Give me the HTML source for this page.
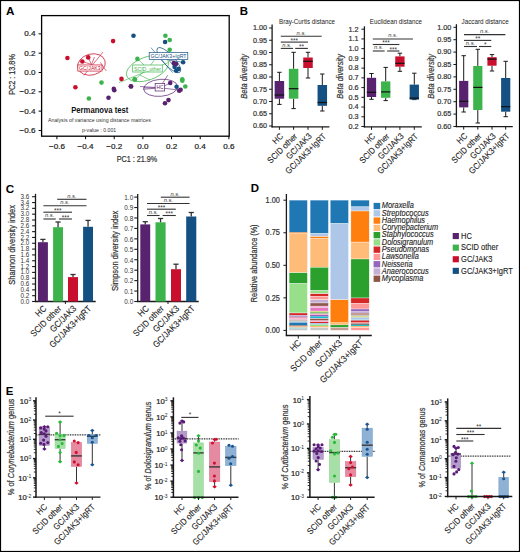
<!DOCTYPE html>
<html><head><meta charset="utf-8"><style>
html,body{margin:0;padding:0;background:#fff;overflow:hidden;}
svg{display:block;font-family:"Liberation Sans", sans-serif;}

</style></head><body>
<svg width="520" height="552" viewBox="0 0 520 552">
<rect x="0" y="0" width="520" height="552" fill="#fff"/>
<text x="6.00" y="14.60" font-size="10.6" text-anchor="start" font-weight="bold" fill="#000" textLength="8.42" lengthAdjust="spacingAndGlyphs">A</text>
<rect x="41.6" y="15.6" width="187.6" height="120.6" fill="none" stroke="#000" stroke-width="1.3"/>
<line x1="56.92" y1="136.20" x2="56.92" y2="139.20" stroke="#000" stroke-width="1"/>
<text x="56.92" y="148.80" font-size="8.1" text-anchor="middle" stroke="#222" stroke-width="0.22" fill="#222">−0.6</text>
<line x1="85.58" y1="136.20" x2="85.58" y2="139.20" stroke="#000" stroke-width="1"/>
<text x="85.58" y="148.80" font-size="8.1" text-anchor="middle" stroke="#222" stroke-width="0.22" fill="#222">−0.4</text>
<line x1="114.24" y1="136.20" x2="114.24" y2="139.20" stroke="#000" stroke-width="1"/>
<text x="114.24" y="148.80" font-size="8.1" text-anchor="middle" stroke="#222" stroke-width="0.22" fill="#222">−0.2</text>
<line x1="142.90" y1="136.20" x2="142.90" y2="139.20" stroke="#000" stroke-width="1"/>
<text x="142.90" y="148.80" font-size="8.1" text-anchor="middle" stroke="#222" stroke-width="0.22" fill="#222">0.0</text>
<line x1="171.56" y1="136.20" x2="171.56" y2="139.20" stroke="#000" stroke-width="1"/>
<text x="171.56" y="148.80" font-size="8.1" text-anchor="middle" stroke="#222" stroke-width="0.22" fill="#222">0.2</text>
<line x1="200.22" y1="136.20" x2="200.22" y2="139.20" stroke="#000" stroke-width="1"/>
<text x="200.22" y="148.80" font-size="8.1" text-anchor="middle" stroke="#222" stroke-width="0.22" fill="#222">0.4</text>
<line x1="228.88" y1="136.20" x2="228.88" y2="139.20" stroke="#000" stroke-width="1"/>
<text x="228.88" y="148.80" font-size="8.1" text-anchor="middle" stroke="#222" stroke-width="0.22" fill="#222">0.6</text>
<line x1="38.60" y1="33.86" x2="41.60" y2="33.86" stroke="#000" stroke-width="1"/>
<text x="35.40" y="36.26" font-size="8.1" text-anchor="end" stroke="#222" stroke-width="0.22" fill="#222">0.4</text>
<line x1="38.60" y1="53.18" x2="41.60" y2="53.18" stroke="#000" stroke-width="1"/>
<text x="35.40" y="55.58" font-size="8.1" text-anchor="end" stroke="#222" stroke-width="0.22" fill="#222">0.2</text>
<line x1="38.60" y1="72.50" x2="41.60" y2="72.50" stroke="#000" stroke-width="1"/>
<text x="35.40" y="74.90" font-size="8.1" text-anchor="end" stroke="#222" stroke-width="0.22" fill="#222">0.0</text>
<line x1="38.60" y1="91.82" x2="41.60" y2="91.82" stroke="#000" stroke-width="1"/>
<text x="35.40" y="94.22" font-size="8.1" text-anchor="end" stroke="#222" stroke-width="0.22" fill="#222">−0.2</text>
<line x1="38.60" y1="111.14" x2="41.60" y2="111.14" stroke="#000" stroke-width="1"/>
<text x="35.40" y="113.54" font-size="8.1" text-anchor="end" stroke="#222" stroke-width="0.22" fill="#222">−0.4</text>
<line x1="38.60" y1="130.46" x2="41.60" y2="130.46" stroke="#000" stroke-width="1"/>
<text x="35.40" y="132.86" font-size="8.1" text-anchor="end" stroke="#222" stroke-width="0.22" fill="#222">−0.6</text>
<text x="137.00" y="162.40" font-size="9.2" text-anchor="middle" stroke="#333" stroke-width="0.22" fill="#333" textLength="40.60" lengthAdjust="spacingAndGlyphs">PC1 : 21.9%</text>
<text x="14.60" y="74.50" font-size="8.7" text-anchor="middle" stroke="#333" stroke-width="0.22" fill="#333" textLength="40.60" lengthAdjust="spacingAndGlyphs" transform="rotate(-90 14.60 74.50)">PC2 : 13.8%</text>
<line x1="84.00" y1="75.30" x2="103.00" y2="52.00" stroke="#c8102e" stroke-width="0.6"/>
<line x1="100.30" y1="62.30" x2="106.30" y2="71.00" stroke="#c8102e" stroke-width="0.6"/>
<line x1="91.50" y1="64.50" x2="82.30" y2="61.50" stroke="#c8102e" stroke-width="0.6"/>
<line x1="91.50" y1="64.50" x2="88.20" y2="57.40" stroke="#c8102e" stroke-width="0.6"/>
<line x1="91.50" y1="64.50" x2="94.50" y2="57.00" stroke="#c8102e" stroke-width="0.6"/>
<ellipse cx="91.5" cy="64.5" rx="14" ry="10.5" transform="rotate(-15 91.5 64.5)" fill="none" stroke="#c8102e" stroke-width="0.7"/>
<rect x="77.80" y="64.95" width="24.2" height="6.1" fill="#fff" stroke="#c8102e" stroke-width="0.7"/>
<text x="89.90" y="70.00" font-size="5.6" text-anchor="middle" fill="#c8102e" textLength="21.70" lengthAdjust="spacingAndGlyphs">GC/JAK3</text>
<line x1="118.80" y1="82.70" x2="168.00" y2="62.70" stroke="#3cb44b" stroke-width="0.6"/>
<line x1="147.50" y1="68.50" x2="137.70" y2="58.90" stroke="#3cb44b" stroke-width="0.6"/>
<line x1="147.50" y1="68.50" x2="134.90" y2="79.50" stroke="#3cb44b" stroke-width="0.6"/>
<line x1="150.00" y1="66.00" x2="160.00" y2="52.00" stroke="#3cb44b" stroke-width="0.6"/>
<line x1="140.00" y1="75.00" x2="150.00" y2="80.00" stroke="#3cb44b" stroke-width="0.6"/>
<ellipse cx="147.5" cy="68.5" rx="22" ry="11.5" transform="rotate(-20 147.5 68.5)" fill="none" stroke="#3cb44b" stroke-width="0.7"/>
<rect x="132.70" y="65.00" width="29.6" height="7" fill="#fff" stroke="#3cb44b" stroke-width="0.7"/>
<text x="147.50" y="70.50" font-size="5.6" text-anchor="middle" fill="#3cb44b" textLength="27.10" lengthAdjust="spacingAndGlyphs">SCID_other</text>
<line x1="150.90" y1="47.60" x2="172.60" y2="72.60" stroke="#155083" stroke-width="0.6"/>
<line x1="168.80" y1="60.10" x2="183.10" y2="62.30" stroke="#155083" stroke-width="0.6"/>
<line x1="168.80" y1="60.10" x2="176.00" y2="69.00" stroke="#155083" stroke-width="0.6"/>
<ellipse cx="168.8" cy="60.1" rx="16.5" ry="5.5" transform="rotate(47 168.8 60.1)" fill="none" stroke="#155083" stroke-width="0.7"/>
<rect x="149.20" y="52.55" width="38.6" height="7.1" fill="#fff" stroke="#155083" stroke-width="0.7"/>
<text x="168.50" y="58.10" font-size="5.6" text-anchor="middle" fill="#155083" textLength="36.10" lengthAdjust="spacingAndGlyphs">GC/JAK3+IgRT</text>
<line x1="143.30" y1="87.80" x2="160.60" y2="87.80" stroke="#58226f" stroke-width="0.6"/>
<line x1="143.30" y1="89.30" x2="160.60" y2="87.80" stroke="#58226f" stroke-width="0.6"/>
<line x1="140.00" y1="86.50" x2="160.60" y2="87.80" stroke="#58226f" stroke-width="0.6"/>
<line x1="167.70" y1="75.30" x2="161.70" y2="84.60" stroke="#58226f" stroke-width="0.6"/>
<line x1="160.60" y1="87.80" x2="170.20" y2="83.00" stroke="#58226f" stroke-width="0.6"/>
<line x1="160.60" y1="87.80" x2="178.00" y2="90.00" stroke="#58226f" stroke-width="0.6"/>
<ellipse cx="160.6" cy="87.8" rx="17" ry="8.5" transform="rotate(-5 160.6 87.8)" fill="none" stroke="#58226f" stroke-width="0.7"/>
<rect x="155.15" y="83.60" width="9.5" height="7.4" fill="#fff" stroke="#58226f" stroke-width="0.7"/>
<text x="159.90" y="89.30" font-size="5.6" text-anchor="middle" fill="#58226f" textLength="7.00" lengthAdjust="spacingAndGlyphs">HC</text>
<circle cx="113.10" cy="41.10" r="2.3" fill="#c8102e"/>
<circle cx="67.40" cy="58.00" r="2.3" fill="#c8102e"/>
<circle cx="82.30" cy="61.50" r="2.3" fill="#c8102e"/>
<circle cx="88.20" cy="57.40" r="2.3" fill="#c8102e"/>
<circle cx="75.40" cy="87.20" r="2.3" fill="#c8102e"/>
<circle cx="121.50" cy="78.90" r="2.3" fill="#c8102e"/>
<circle cx="101.50" cy="82.60" r="2.3" fill="#3cb44b"/>
<circle cx="137.40" cy="58.90" r="2.3" fill="#3cb44b"/>
<circle cx="134.90" cy="79.50" r="2.3" fill="#3cb44b"/>
<circle cx="165.40" cy="35.80" r="2.3" fill="#3cb44b"/>
<circle cx="169.70" cy="40.00" r="2.3" fill="#3cb44b"/>
<circle cx="169.70" cy="49.70" r="2.3" fill="#3cb44b"/>
<circle cx="182.30" cy="79.20" r="2.3" fill="#3cb44b"/>
<circle cx="182.30" cy="80.80" r="2.3" fill="#3cb44b"/>
<circle cx="185.30" cy="86.50" r="2.3" fill="#3cb44b"/>
<circle cx="88.90" cy="98.50" r="2.3" fill="#3cb44b"/>
<circle cx="134.60" cy="79.20" r="2.3" fill="#3cb44b"/>
<circle cx="133.50" cy="35.80" r="2.3" fill="#155083"/>
<circle cx="165.10" cy="42.00" r="2.3" fill="#155083"/>
<circle cx="183.10" cy="62.30" r="2.3" fill="#155083"/>
<circle cx="174.60" cy="66.90" r="2.3" fill="#155083"/>
<circle cx="178.50" cy="68.90" r="2.3" fill="#155083"/>
<circle cx="176.20" cy="70.80" r="2.3" fill="#155083"/>
<circle cx="176.60" cy="86.80" r="2.3" fill="#155083"/>
<circle cx="130.80" cy="86.20" r="2.3" fill="#58226f"/>
<circle cx="113.80" cy="88.90" r="2.3" fill="#58226f"/>
<circle cx="131.10" cy="86.50" r="2.3" fill="#58226f"/>
<circle cx="114.30" cy="90.30" r="2.3" fill="#58226f"/>
<circle cx="170.20" cy="83.00" r="2.3" fill="#58226f"/>
<circle cx="179.20" cy="90.80" r="2.3" fill="#58226f"/>
<circle cx="180.60" cy="89.80" r="2.3" fill="#58226f"/>
<circle cx="168.50" cy="100.10" r="2.3" fill="#58226f"/>
<circle cx="165.00" cy="103.30" r="2.3" fill="#58226f"/>
<circle cx="108.50" cy="97.80" r="2.3" fill="#58226f"/>
<circle cx="173.80" cy="63.10" r="2.3" fill="#58226f"/>
<circle cx="176.00" cy="64.00" r="2.3" fill="#58226f"/>
<text x="99.80" y="113.00" font-size="8.3" text-anchor="middle" font-weight="bold" fill="#111" textLength="57.20" lengthAdjust="spacingAndGlyphs">Permanova test</text>
<text x="99.40" y="122.00" font-size="5.3" text-anchor="middle" fill="#333" textLength="102.80" lengthAdjust="spacingAndGlyphs">Analysis of variance using distance matrices</text>
<text x="99.10" y="131.80" font-size="5.3" text-anchor="middle" fill="#333" textLength="34.20" lengthAdjust="spacingAndGlyphs">p-value : 0.001</text>
<text x="239.80" y="14.90" font-size="10.6" text-anchor="start" font-weight="bold" fill="#000" textLength="8.27" lengthAdjust="spacingAndGlyphs">B</text>
<line x1="272.10" y1="24.50" x2="272.10" y2="127.40" stroke="#1a1a1a" stroke-width="1.3"/>
<line x1="271.50" y1="126.80" x2="329.40" y2="126.80" stroke="#1a1a1a" stroke-width="1.3"/>
<line x1="269.10" y1="28.00" x2="272.10" y2="28.00" stroke="#1a1a1a" stroke-width="1"/>
<text x="267.10" y="30.30" font-size="8.12" text-anchor="end" stroke="#333" stroke-width="0.22" fill="#333" textLength="14.11" lengthAdjust="spacingAndGlyphs">1.00</text>
<line x1="269.10" y1="40.25" x2="272.10" y2="40.25" stroke="#1a1a1a" stroke-width="1"/>
<text x="267.10" y="42.55" font-size="8.12" text-anchor="end" stroke="#333" stroke-width="0.22" fill="#333" textLength="14.11" lengthAdjust="spacingAndGlyphs">0.95</text>
<line x1="269.10" y1="52.50" x2="272.10" y2="52.50" stroke="#1a1a1a" stroke-width="1"/>
<text x="267.10" y="54.80" font-size="8.12" text-anchor="end" stroke="#333" stroke-width="0.22" fill="#333" textLength="14.11" lengthAdjust="spacingAndGlyphs">0.90</text>
<line x1="269.10" y1="64.75" x2="272.10" y2="64.75" stroke="#1a1a1a" stroke-width="1"/>
<text x="267.10" y="67.05" font-size="8.12" text-anchor="end" stroke="#333" stroke-width="0.22" fill="#333" textLength="14.11" lengthAdjust="spacingAndGlyphs">0.85</text>
<line x1="269.10" y1="77.00" x2="272.10" y2="77.00" stroke="#1a1a1a" stroke-width="1"/>
<text x="267.10" y="79.30" font-size="8.12" text-anchor="end" stroke="#333" stroke-width="0.22" fill="#333" textLength="14.11" lengthAdjust="spacingAndGlyphs">0.80</text>
<line x1="269.10" y1="89.25" x2="272.10" y2="89.25" stroke="#1a1a1a" stroke-width="1"/>
<text x="267.10" y="91.55" font-size="8.12" text-anchor="end" stroke="#333" stroke-width="0.22" fill="#333" textLength="14.11" lengthAdjust="spacingAndGlyphs">0.75</text>
<line x1="269.10" y1="101.50" x2="272.10" y2="101.50" stroke="#1a1a1a" stroke-width="1"/>
<text x="267.10" y="103.80" font-size="8.12" text-anchor="end" stroke="#333" stroke-width="0.22" fill="#333" textLength="14.11" lengthAdjust="spacingAndGlyphs">0.70</text>
<line x1="269.10" y1="113.75" x2="272.10" y2="113.75" stroke="#1a1a1a" stroke-width="1"/>
<text x="267.10" y="116.05" font-size="8.12" text-anchor="end" stroke="#333" stroke-width="0.22" fill="#333" textLength="14.11" lengthAdjust="spacingAndGlyphs">0.65</text>
<line x1="269.10" y1="126.00" x2="272.10" y2="126.00" stroke="#1a1a1a" stroke-width="1"/>
<text x="267.10" y="128.30" font-size="8.12" text-anchor="end" stroke="#333" stroke-width="0.22" fill="#333" textLength="14.11" lengthAdjust="spacingAndGlyphs">0.60</text>
<line x1="279.40" y1="126.80" x2="279.40" y2="129.80" stroke="#1a1a1a" stroke-width="1"/>
<line x1="293.60" y1="126.80" x2="293.60" y2="129.80" stroke="#1a1a1a" stroke-width="1"/>
<line x1="308.00" y1="126.80" x2="308.00" y2="129.80" stroke="#1a1a1a" stroke-width="1"/>
<line x1="322.30" y1="126.80" x2="322.30" y2="129.80" stroke="#1a1a1a" stroke-width="1"/>
<line x1="279.40" y1="72.30" x2="279.40" y2="81.00" stroke="#1a1a1a" stroke-width="1"/>
<line x1="279.40" y1="98.70" x2="279.40" y2="104.40" stroke="#1a1a1a" stroke-width="1"/>
<line x1="277.20" y1="72.30" x2="281.60" y2="72.30" stroke="#1a1a1a" stroke-width="1"/>
<line x1="277.20" y1="104.40" x2="281.60" y2="104.40" stroke="#1a1a1a" stroke-width="1"/>
<rect x="274.65" y="81.00" width="9.50" height="17.70" fill="#58226f" stroke="none" stroke-width="0"/>
<line x1="274.65" y1="95.00" x2="284.15" y2="95.00" stroke="#111" stroke-width="1.2"/>
<line x1="293.60" y1="52.30" x2="293.60" y2="68.80" stroke="#1a1a1a" stroke-width="1"/>
<line x1="293.60" y1="98.70" x2="293.60" y2="108.60" stroke="#1a1a1a" stroke-width="1"/>
<line x1="291.40" y1="52.30" x2="295.80" y2="52.30" stroke="#1a1a1a" stroke-width="1"/>
<line x1="291.40" y1="108.60" x2="295.80" y2="108.60" stroke="#1a1a1a" stroke-width="1"/>
<rect x="288.85" y="68.80" width="9.50" height="29.90" fill="#3cb44b" stroke="none" stroke-width="0"/>
<line x1="288.85" y1="88.70" x2="298.35" y2="88.70" stroke="#111" stroke-width="1.2"/>
<line x1="308.00" y1="52.30" x2="308.00" y2="57.50" stroke="#1a1a1a" stroke-width="1"/>
<line x1="308.00" y1="68.00" x2="308.00" y2="78.00" stroke="#1a1a1a" stroke-width="1"/>
<line x1="305.80" y1="52.30" x2="310.20" y2="52.30" stroke="#1a1a1a" stroke-width="1"/>
<line x1="305.80" y1="78.00" x2="310.20" y2="78.00" stroke="#1a1a1a" stroke-width="1"/>
<rect x="303.25" y="57.50" width="9.50" height="10.50" fill="#c8102e" stroke="none" stroke-width="0"/>
<line x1="303.25" y1="61.30" x2="312.75" y2="61.30" stroke="#111" stroke-width="1.2"/>
<line x1="322.30" y1="74.00" x2="322.30" y2="85.00" stroke="#1a1a1a" stroke-width="1"/>
<line x1="322.30" y1="105.80" x2="322.30" y2="111.00" stroke="#1a1a1a" stroke-width="1"/>
<line x1="320.10" y1="74.00" x2="324.50" y2="74.00" stroke="#1a1a1a" stroke-width="1"/>
<line x1="320.10" y1="111.00" x2="324.50" y2="111.00" stroke="#1a1a1a" stroke-width="1"/>
<rect x="317.55" y="85.00" width="9.50" height="20.80" fill="#155083" stroke="none" stroke-width="0"/>
<line x1="317.55" y1="102.50" x2="327.05" y2="102.50" stroke="#111" stroke-width="1.2"/>
<line x1="280.80" y1="36.20" x2="321.70" y2="36.20" stroke="#333" stroke-width="1.1"/>
<text x="301.25" y="34.60" font-size="5.8" text-anchor="middle" font-style="italic" fill="#333">n.s.</text>
<line x1="280.80" y1="42.10" x2="307.90" y2="42.10" stroke="#333" stroke-width="1.1"/>
<text x="294.35" y="42.80" font-size="6.4" text-anchor="middle" fill="#333">***</text>
<line x1="280.80" y1="48.40" x2="293.10" y2="48.40" stroke="#333" stroke-width="1.1"/>
<text x="286.95" y="46.80" font-size="5.8" text-anchor="middle" font-style="italic" fill="#333">n.s.</text>
<line x1="295.20" y1="48.40" x2="307.90" y2="48.40" stroke="#333" stroke-width="1.1"/>
<text x="301.55" y="49.10" font-size="6.4" text-anchor="middle" fill="#333">**</text>
<text x="307.00" y="24.20" font-size="6.3" text-anchor="middle" fill="#222" textLength="56.00" lengthAdjust="spacingAndGlyphs">Bray-Curtis distance</text>
<text x="247.20" y="76.30" font-size="8.8" text-anchor="middle" stroke="#333" stroke-width="0.22" font-style="italic" fill="#333" textLength="44.80" lengthAdjust="spacingAndGlyphs" transform="rotate(-90 247.20 76.30)">Beta diversity</text>
<text x="283.70" y="136.80" font-size="8.68" text-anchor="end" stroke="#222" stroke-width="0.1" fill="#222" textLength="11.19" lengthAdjust="spacingAndGlyphs" transform="rotate(-45 283.70 136.80)">HC</text>
<text x="297.90" y="136.80" font-size="8.68" text-anchor="end" stroke="#222" stroke-width="0.1" fill="#222" textLength="38.33" lengthAdjust="spacingAndGlyphs" transform="rotate(-45 297.90 136.80)">SCID other</text>
<text x="312.30" y="136.80" font-size="8.68" text-anchor="end" stroke="#222" stroke-width="0.1" fill="#222" textLength="32.30" lengthAdjust="spacingAndGlyphs" transform="rotate(-45 312.30 136.80)">GC/JAK3</text>
<text x="326.60" y="136.80" font-size="8.68" text-anchor="end" stroke="#222" stroke-width="0.1" fill="#222" textLength="53.48" lengthAdjust="spacingAndGlyphs" transform="rotate(-45 326.60 136.80)">GC/JAK3+IgRT</text>
<line x1="364.40" y1="26.30" x2="364.40" y2="127.40" stroke="#1a1a1a" stroke-width="1.3"/>
<line x1="363.80" y1="126.80" x2="421.80" y2="126.80" stroke="#1a1a1a" stroke-width="1.3"/>
<line x1="361.40" y1="29.20" x2="364.40" y2="29.20" stroke="#1a1a1a" stroke-width="1"/>
<text x="358.50" y="31.50" font-size="8.12" text-anchor="end" stroke="#333" stroke-width="0.22" fill="#333" textLength="10.08" lengthAdjust="spacingAndGlyphs">1.2</text>
<line x1="361.40" y1="38.93" x2="364.40" y2="38.93" stroke="#1a1a1a" stroke-width="1"/>
<text x="358.50" y="41.23" font-size="8.12" text-anchor="end" stroke="#333" stroke-width="0.22" fill="#333" textLength="10.08" lengthAdjust="spacingAndGlyphs">1.1</text>
<line x1="361.40" y1="48.66" x2="364.40" y2="48.66" stroke="#1a1a1a" stroke-width="1"/>
<text x="358.50" y="50.96" font-size="8.12" text-anchor="end" stroke="#333" stroke-width="0.22" fill="#333" textLength="10.08" lengthAdjust="spacingAndGlyphs">1.0</text>
<line x1="361.40" y1="58.39" x2="364.40" y2="58.39" stroke="#1a1a1a" stroke-width="1"/>
<text x="358.50" y="60.69" font-size="8.12" text-anchor="end" stroke="#333" stroke-width="0.22" fill="#333" textLength="10.08" lengthAdjust="spacingAndGlyphs">0.9</text>
<line x1="361.40" y1="68.12" x2="364.40" y2="68.12" stroke="#1a1a1a" stroke-width="1"/>
<text x="358.50" y="70.42" font-size="8.12" text-anchor="end" stroke="#333" stroke-width="0.22" fill="#333" textLength="10.08" lengthAdjust="spacingAndGlyphs">0.8</text>
<line x1="361.40" y1="77.85" x2="364.40" y2="77.85" stroke="#1a1a1a" stroke-width="1"/>
<text x="358.50" y="80.15" font-size="8.12" text-anchor="end" stroke="#333" stroke-width="0.22" fill="#333" textLength="10.08" lengthAdjust="spacingAndGlyphs">0.7</text>
<line x1="361.40" y1="87.58" x2="364.40" y2="87.58" stroke="#1a1a1a" stroke-width="1"/>
<text x="358.50" y="89.88" font-size="8.12" text-anchor="end" stroke="#333" stroke-width="0.22" fill="#333" textLength="10.08" lengthAdjust="spacingAndGlyphs">0.6</text>
<line x1="361.40" y1="97.31" x2="364.40" y2="97.31" stroke="#1a1a1a" stroke-width="1"/>
<text x="358.50" y="99.61" font-size="8.12" text-anchor="end" stroke="#333" stroke-width="0.22" fill="#333" textLength="10.08" lengthAdjust="spacingAndGlyphs">0.5</text>
<line x1="361.40" y1="107.04" x2="364.40" y2="107.04" stroke="#1a1a1a" stroke-width="1"/>
<text x="358.50" y="109.34" font-size="8.12" text-anchor="end" stroke="#333" stroke-width="0.22" fill="#333" textLength="10.08" lengthAdjust="spacingAndGlyphs">0.4</text>
<line x1="361.40" y1="116.77" x2="364.40" y2="116.77" stroke="#1a1a1a" stroke-width="1"/>
<text x="358.50" y="119.07" font-size="8.12" text-anchor="end" stroke="#333" stroke-width="0.22" fill="#333" textLength="10.08" lengthAdjust="spacingAndGlyphs">0.3</text>
<line x1="361.40" y1="126.50" x2="364.40" y2="126.50" stroke="#1a1a1a" stroke-width="1"/>
<text x="358.50" y="128.80" font-size="8.12" text-anchor="end" stroke="#333" stroke-width="0.22" fill="#333" textLength="10.08" lengthAdjust="spacingAndGlyphs">0.2</text>
<line x1="371.50" y1="126.80" x2="371.50" y2="129.80" stroke="#1a1a1a" stroke-width="1"/>
<line x1="385.70" y1="126.80" x2="385.70" y2="129.80" stroke="#1a1a1a" stroke-width="1"/>
<line x1="399.90" y1="126.80" x2="399.90" y2="129.80" stroke="#1a1a1a" stroke-width="1"/>
<line x1="414.30" y1="126.80" x2="414.30" y2="129.80" stroke="#1a1a1a" stroke-width="1"/>
<line x1="371.50" y1="73.50" x2="371.50" y2="77.80" stroke="#1a1a1a" stroke-width="1"/>
<line x1="371.50" y1="97.00" x2="371.50" y2="99.30" stroke="#1a1a1a" stroke-width="1"/>
<line x1="369.30" y1="73.50" x2="373.70" y2="73.50" stroke="#1a1a1a" stroke-width="1"/>
<line x1="369.30" y1="99.30" x2="373.70" y2="99.30" stroke="#1a1a1a" stroke-width="1"/>
<rect x="366.85" y="77.80" width="9.30" height="19.20" fill="#58226f" stroke="none" stroke-width="0"/>
<line x1="366.85" y1="92.30" x2="376.15" y2="92.30" stroke="#111" stroke-width="1.2"/>
<line x1="385.70" y1="67.40" x2="385.70" y2="81.40" stroke="#1a1a1a" stroke-width="1"/>
<line x1="385.70" y1="97.80" x2="385.70" y2="100.60" stroke="#1a1a1a" stroke-width="1"/>
<line x1="383.50" y1="67.40" x2="387.90" y2="67.40" stroke="#1a1a1a" stroke-width="1"/>
<line x1="383.50" y1="100.60" x2="387.90" y2="100.60" stroke="#1a1a1a" stroke-width="1"/>
<rect x="381.05" y="81.40" width="9.30" height="16.40" fill="#3cb44b" stroke="none" stroke-width="0"/>
<line x1="381.05" y1="91.90" x2="390.35" y2="91.90" stroke="#111" stroke-width="1.2"/>
<line x1="399.90" y1="53.20" x2="399.90" y2="56.40" stroke="#1a1a1a" stroke-width="1"/>
<line x1="399.90" y1="66.70" x2="399.90" y2="71.30" stroke="#1a1a1a" stroke-width="1"/>
<line x1="397.70" y1="53.20" x2="402.10" y2="53.20" stroke="#1a1a1a" stroke-width="1"/>
<line x1="397.70" y1="71.30" x2="402.10" y2="71.30" stroke="#1a1a1a" stroke-width="1"/>
<rect x="395.25" y="56.40" width="9.30" height="10.30" fill="#c8102e" stroke="none" stroke-width="0"/>
<line x1="395.25" y1="63.30" x2="404.55" y2="63.30" stroke="#111" stroke-width="1.2"/>
<line x1="414.30" y1="73.20" x2="414.30" y2="84.60" stroke="#1a1a1a" stroke-width="1"/>
<line x1="414.30" y1="99.60" x2="414.30" y2="99.60" stroke="#1a1a1a" stroke-width="1"/>
<line x1="412.10" y1="73.20" x2="416.50" y2="73.20" stroke="#1a1a1a" stroke-width="1"/>
<line x1="412.10" y1="99.60" x2="416.50" y2="99.60" stroke="#1a1a1a" stroke-width="1"/>
<rect x="409.65" y="84.60" width="9.30" height="15.00" fill="#155083" stroke="none" stroke-width="0"/>
<line x1="409.65" y1="98.10" x2="418.95" y2="98.10" stroke="#111" stroke-width="1.2"/>
<line x1="372.80" y1="39.00" x2="412.90" y2="39.00" stroke="#333" stroke-width="1.1"/>
<text x="392.85" y="37.40" font-size="5.8" text-anchor="middle" font-style="italic" fill="#333">n.s.</text>
<line x1="372.80" y1="44.50" x2="399.40" y2="44.50" stroke="#333" stroke-width="1.1"/>
<text x="386.10" y="45.20" font-size="6.4" text-anchor="middle" fill="#333">***</text>
<line x1="372.80" y1="51.00" x2="384.60" y2="51.00" stroke="#333" stroke-width="1.1"/>
<text x="378.70" y="49.40" font-size="5.8" text-anchor="middle" font-style="italic" fill="#333">n.s.</text>
<line x1="387.20" y1="51.00" x2="399.40" y2="51.00" stroke="#333" stroke-width="1.1"/>
<text x="393.30" y="51.70" font-size="6.4" text-anchor="middle" fill="#333">***</text>
<text x="395.90" y="24.20" font-size="6.3" text-anchor="middle" fill="#222" textLength="52.20" lengthAdjust="spacingAndGlyphs">Euclidean distance</text>
<text x="342.90" y="76.40" font-size="8.8" text-anchor="middle" stroke="#333" stroke-width="0.22" font-style="italic" fill="#333" textLength="44.60" lengthAdjust="spacingAndGlyphs" transform="rotate(-90 342.90 76.40)">Beta diversity</text>
<text x="375.80" y="136.80" font-size="8.68" text-anchor="end" stroke="#222" stroke-width="0.1" fill="#222" textLength="11.19" lengthAdjust="spacingAndGlyphs" transform="rotate(-45 375.80 136.80)">HC</text>
<text x="390.00" y="136.80" font-size="8.68" text-anchor="end" stroke="#222" stroke-width="0.1" fill="#222" textLength="38.33" lengthAdjust="spacingAndGlyphs" transform="rotate(-45 390.00 136.80)">SCID other</text>
<text x="404.20" y="136.80" font-size="8.68" text-anchor="end" stroke="#222" stroke-width="0.1" fill="#222" textLength="32.30" lengthAdjust="spacingAndGlyphs" transform="rotate(-45 404.20 136.80)">GC/JAK3</text>
<text x="418.60" y="136.80" font-size="8.68" text-anchor="end" stroke="#222" stroke-width="0.1" fill="#222" textLength="53.48" lengthAdjust="spacingAndGlyphs" transform="rotate(-45 418.60 136.80)">GC/JAK3+IgRT</text>
<line x1="456.40" y1="24.20" x2="456.40" y2="127.20" stroke="#1a1a1a" stroke-width="1.3"/>
<line x1="455.80" y1="126.60" x2="512.80" y2="126.60" stroke="#1a1a1a" stroke-width="1.3"/>
<line x1="453.40" y1="27.30" x2="456.40" y2="27.30" stroke="#1a1a1a" stroke-width="1"/>
<text x="451.30" y="29.60" font-size="8.12" text-anchor="end" stroke="#333" stroke-width="0.22" fill="#333" textLength="14.11" lengthAdjust="spacingAndGlyphs">1.00</text>
<line x1="453.40" y1="39.70" x2="456.40" y2="39.70" stroke="#1a1a1a" stroke-width="1"/>
<text x="451.30" y="42.00" font-size="8.12" text-anchor="end" stroke="#333" stroke-width="0.22" fill="#333" textLength="14.11" lengthAdjust="spacingAndGlyphs">0.95</text>
<line x1="453.40" y1="52.10" x2="456.40" y2="52.10" stroke="#1a1a1a" stroke-width="1"/>
<text x="451.30" y="54.40" font-size="8.12" text-anchor="end" stroke="#333" stroke-width="0.22" fill="#333" textLength="14.11" lengthAdjust="spacingAndGlyphs">0.90</text>
<line x1="453.40" y1="64.50" x2="456.40" y2="64.50" stroke="#1a1a1a" stroke-width="1"/>
<text x="451.30" y="66.80" font-size="8.12" text-anchor="end" stroke="#333" stroke-width="0.22" fill="#333" textLength="14.11" lengthAdjust="spacingAndGlyphs">0.85</text>
<line x1="453.40" y1="76.90" x2="456.40" y2="76.90" stroke="#1a1a1a" stroke-width="1"/>
<text x="451.30" y="79.20" font-size="8.12" text-anchor="end" stroke="#333" stroke-width="0.22" fill="#333" textLength="14.11" lengthAdjust="spacingAndGlyphs">0.80</text>
<line x1="453.40" y1="89.30" x2="456.40" y2="89.30" stroke="#1a1a1a" stroke-width="1"/>
<text x="451.30" y="91.60" font-size="8.12" text-anchor="end" stroke="#333" stroke-width="0.22" fill="#333" textLength="14.11" lengthAdjust="spacingAndGlyphs">0.75</text>
<line x1="453.40" y1="101.70" x2="456.40" y2="101.70" stroke="#1a1a1a" stroke-width="1"/>
<text x="451.30" y="104.00" font-size="8.12" text-anchor="end" stroke="#333" stroke-width="0.22" fill="#333" textLength="14.11" lengthAdjust="spacingAndGlyphs">0.70</text>
<line x1="453.40" y1="114.10" x2="456.40" y2="114.10" stroke="#1a1a1a" stroke-width="1"/>
<text x="451.30" y="116.40" font-size="8.12" text-anchor="end" stroke="#333" stroke-width="0.22" fill="#333" textLength="14.11" lengthAdjust="spacingAndGlyphs">0.65</text>
<line x1="453.40" y1="126.50" x2="456.40" y2="126.50" stroke="#1a1a1a" stroke-width="1"/>
<text x="451.30" y="128.80" font-size="8.12" text-anchor="end" stroke="#333" stroke-width="0.22" fill="#333" textLength="14.11" lengthAdjust="spacingAndGlyphs">0.60</text>
<line x1="463.70" y1="126.60" x2="463.70" y2="129.60" stroke="#1a1a1a" stroke-width="1"/>
<line x1="477.80" y1="126.60" x2="477.80" y2="129.60" stroke="#1a1a1a" stroke-width="1"/>
<line x1="492.00" y1="126.60" x2="492.00" y2="129.60" stroke="#1a1a1a" stroke-width="1"/>
<line x1="505.70" y1="126.60" x2="505.70" y2="129.60" stroke="#1a1a1a" stroke-width="1"/>
<line x1="463.70" y1="55.70" x2="463.70" y2="80.90" stroke="#1a1a1a" stroke-width="1"/>
<line x1="463.70" y1="107.40" x2="463.70" y2="112.00" stroke="#1a1a1a" stroke-width="1"/>
<line x1="461.50" y1="55.70" x2="465.90" y2="55.70" stroke="#1a1a1a" stroke-width="1"/>
<line x1="461.50" y1="112.00" x2="465.90" y2="112.00" stroke="#1a1a1a" stroke-width="1"/>
<rect x="459.10" y="80.90" width="9.20" height="26.50" fill="#58226f" stroke="none" stroke-width="0"/>
<line x1="459.10" y1="101.30" x2="468.30" y2="101.30" stroke="#111" stroke-width="1.2"/>
<line x1="477.80" y1="49.30" x2="477.80" y2="66.00" stroke="#1a1a1a" stroke-width="1"/>
<line x1="477.80" y1="110.00" x2="477.80" y2="123.00" stroke="#1a1a1a" stroke-width="1"/>
<line x1="475.60" y1="49.30" x2="480.00" y2="49.30" stroke="#1a1a1a" stroke-width="1"/>
<line x1="475.60" y1="123.00" x2="480.00" y2="123.00" stroke="#1a1a1a" stroke-width="1"/>
<rect x="473.20" y="66.00" width="9.20" height="44.00" fill="#3cb44b" stroke="none" stroke-width="0"/>
<line x1="473.20" y1="87.40" x2="482.40" y2="87.40" stroke="#111" stroke-width="1.2"/>
<line x1="492.00" y1="54.60" x2="492.00" y2="57.20" stroke="#1a1a1a" stroke-width="1"/>
<line x1="492.00" y1="65.70" x2="492.00" y2="71.00" stroke="#1a1a1a" stroke-width="1"/>
<line x1="489.80" y1="54.60" x2="494.20" y2="54.60" stroke="#1a1a1a" stroke-width="1"/>
<line x1="489.80" y1="71.00" x2="494.20" y2="71.00" stroke="#1a1a1a" stroke-width="1"/>
<rect x="487.40" y="57.20" width="9.20" height="8.50" fill="#c8102e" stroke="none" stroke-width="0"/>
<line x1="487.40" y1="59.10" x2="496.60" y2="59.10" stroke="#111" stroke-width="1.2"/>
<line x1="505.70" y1="61.30" x2="505.70" y2="78.00" stroke="#1a1a1a" stroke-width="1"/>
<line x1="505.70" y1="111.70" x2="505.70" y2="116.70" stroke="#1a1a1a" stroke-width="1"/>
<line x1="503.50" y1="61.30" x2="507.90" y2="61.30" stroke="#1a1a1a" stroke-width="1"/>
<line x1="503.50" y1="116.70" x2="507.90" y2="116.70" stroke="#1a1a1a" stroke-width="1"/>
<rect x="501.10" y="78.00" width="9.20" height="33.70" fill="#155083" stroke="none" stroke-width="0"/>
<line x1="501.10" y1="106.70" x2="510.30" y2="106.70" stroke="#111" stroke-width="1.2"/>
<line x1="464.00" y1="34.60" x2="505.40" y2="34.60" stroke="#333" stroke-width="1.1"/>
<text x="484.70" y="33.00" font-size="5.8" text-anchor="middle" font-style="italic" fill="#333">n.s.</text>
<line x1="464.00" y1="40.40" x2="491.30" y2="40.40" stroke="#333" stroke-width="1.1"/>
<text x="477.65" y="41.10" font-size="6.4" text-anchor="middle" fill="#333">**</text>
<line x1="464.00" y1="46.50" x2="477.00" y2="46.50" stroke="#333" stroke-width="1.1"/>
<text x="470.50" y="44.90" font-size="5.8" text-anchor="middle" font-style="italic" fill="#333">n.s.</text>
<line x1="479.00" y1="46.50" x2="491.30" y2="46.50" stroke="#333" stroke-width="1.1"/>
<text x="485.15" y="47.20" font-size="6.4" text-anchor="middle" fill="#333">*</text>
<text x="485.10" y="24.20" font-size="6.3" text-anchor="middle" fill="#222" textLength="47.20" lengthAdjust="spacingAndGlyphs">Jaccard distance</text>
<text x="434.20" y="76.30" font-size="8.8" text-anchor="middle" stroke="#333" stroke-width="0.22" font-style="italic" fill="#333" textLength="44.80" lengthAdjust="spacingAndGlyphs" transform="rotate(-90 434.20 76.30)">Beta diversity</text>
<text x="468.00" y="136.60" font-size="8.68" text-anchor="end" stroke="#222" stroke-width="0.1" fill="#222" textLength="11.19" lengthAdjust="spacingAndGlyphs" transform="rotate(-45 468.00 136.60)">HC</text>
<text x="482.10" y="136.60" font-size="8.68" text-anchor="end" stroke="#222" stroke-width="0.1" fill="#222" textLength="38.33" lengthAdjust="spacingAndGlyphs" transform="rotate(-45 482.10 136.60)">SCID other</text>
<text x="496.30" y="136.60" font-size="8.68" text-anchor="end" stroke="#222" stroke-width="0.1" fill="#222" textLength="32.30" lengthAdjust="spacingAndGlyphs" transform="rotate(-45 496.30 136.60)">GC/JAK3</text>
<text x="510.00" y="136.60" font-size="8.68" text-anchor="end" stroke="#222" stroke-width="0.1" fill="#222" textLength="53.48" lengthAdjust="spacingAndGlyphs" transform="rotate(-45 510.00 136.60)">GC/JAK3+IgRT</text>
<text x="5.70" y="192.90" font-size="10.6" text-anchor="start" font-weight="bold" fill="#000" textLength="8.42" lengthAdjust="spacingAndGlyphs">C</text>
<line x1="35.50" y1="193.80" x2="35.50" y2="302.10" stroke="#1a1a1a" stroke-width="1.3"/>
<line x1="34.90" y1="301.50" x2="95.70" y2="301.50" stroke="#1a1a1a" stroke-width="1.3"/>
<line x1="65.40" y1="301.50" x2="65.40" y2="304.00" stroke="#1a1a1a" stroke-width="1"/>
<line x1="32.10" y1="301.50" x2="35.50" y2="301.50" stroke="#1a1a1a" stroke-width="1.1"/>
<text x="29.20" y="303.60" font-size="6.3" text-anchor="end" fill="#333">0.0</text>
<line x1="32.10" y1="295.68" x2="35.50" y2="295.68" stroke="#1a1a1a" stroke-width="1.1"/>
<text x="29.20" y="297.78" font-size="6.3" text-anchor="end" fill="#333">0.2</text>
<line x1="32.10" y1="289.86" x2="35.50" y2="289.86" stroke="#1a1a1a" stroke-width="1.1"/>
<text x="29.20" y="291.96" font-size="6.3" text-anchor="end" fill="#333">0.4</text>
<line x1="32.10" y1="284.03" x2="35.50" y2="284.03" stroke="#1a1a1a" stroke-width="1.1"/>
<text x="29.20" y="286.13" font-size="6.3" text-anchor="end" fill="#333">0.6</text>
<line x1="32.10" y1="278.21" x2="35.50" y2="278.21" stroke="#1a1a1a" stroke-width="1.1"/>
<text x="29.20" y="280.31" font-size="6.3" text-anchor="end" fill="#333">0.8</text>
<line x1="32.10" y1="272.39" x2="35.50" y2="272.39" stroke="#1a1a1a" stroke-width="1.1"/>
<text x="29.20" y="274.49" font-size="6.3" text-anchor="end" fill="#333">1.0</text>
<line x1="32.10" y1="266.57" x2="35.50" y2="266.57" stroke="#1a1a1a" stroke-width="1.1"/>
<text x="29.20" y="268.67" font-size="6.3" text-anchor="end" fill="#333">1.2</text>
<line x1="32.10" y1="260.75" x2="35.50" y2="260.75" stroke="#1a1a1a" stroke-width="1.1"/>
<text x="29.20" y="262.85" font-size="6.3" text-anchor="end" fill="#333">1.4</text>
<line x1="32.10" y1="254.92" x2="35.50" y2="254.92" stroke="#1a1a1a" stroke-width="1.1"/>
<text x="29.20" y="257.02" font-size="6.3" text-anchor="end" fill="#333">1.6</text>
<line x1="32.10" y1="249.10" x2="35.50" y2="249.10" stroke="#1a1a1a" stroke-width="1.1"/>
<text x="29.20" y="251.20" font-size="6.3" text-anchor="end" fill="#333">1.8</text>
<line x1="32.10" y1="243.28" x2="35.50" y2="243.28" stroke="#1a1a1a" stroke-width="1.1"/>
<text x="29.20" y="245.38" font-size="6.3" text-anchor="end" fill="#333">2.0</text>
<line x1="32.10" y1="237.46" x2="35.50" y2="237.46" stroke="#1a1a1a" stroke-width="1.1"/>
<text x="29.20" y="239.56" font-size="6.3" text-anchor="end" fill="#333">2.2</text>
<line x1="32.10" y1="231.64" x2="35.50" y2="231.64" stroke="#1a1a1a" stroke-width="1.1"/>
<text x="29.20" y="233.74" font-size="6.3" text-anchor="end" fill="#333">2.4</text>
<line x1="32.10" y1="225.81" x2="35.50" y2="225.81" stroke="#1a1a1a" stroke-width="1.1"/>
<text x="29.20" y="227.91" font-size="6.3" text-anchor="end" fill="#333">2.6</text>
<line x1="32.10" y1="219.99" x2="35.50" y2="219.99" stroke="#1a1a1a" stroke-width="1.1"/>
<text x="29.20" y="222.09" font-size="6.3" text-anchor="end" fill="#333">2.8</text>
<line x1="32.10" y1="214.17" x2="35.50" y2="214.17" stroke="#1a1a1a" stroke-width="1.1"/>
<text x="29.20" y="216.27" font-size="6.3" text-anchor="end" fill="#333">3.0</text>
<line x1="32.10" y1="208.35" x2="35.50" y2="208.35" stroke="#1a1a1a" stroke-width="1.1"/>
<text x="29.20" y="210.45" font-size="6.3" text-anchor="end" fill="#333">3.2</text>
<line x1="32.10" y1="202.53" x2="35.50" y2="202.53" stroke="#1a1a1a" stroke-width="1.1"/>
<text x="29.20" y="204.63" font-size="6.3" text-anchor="end" fill="#333">3.4</text>
<line x1="32.10" y1="196.70" x2="35.50" y2="196.70" stroke="#1a1a1a" stroke-width="1.1"/>
<text x="29.20" y="198.80" font-size="6.3" text-anchor="end" fill="#333">3.6</text>
<rect x="37.90" y="242.20" width="10.00" height="59.30" fill="#58226f" stroke="none" stroke-width="0"/>
<line x1="42.90" y1="239.40" x2="42.90" y2="242.20" stroke="#333" stroke-width="1.3"/>
<line x1="40.30" y1="239.40" x2="45.50" y2="239.40" stroke="#333" stroke-width="1.3"/>
<rect x="53.10" y="227.20" width="9.90" height="74.30" fill="#3cb44b" stroke="none" stroke-width="0"/>
<line x1="58.05" y1="222.00" x2="58.05" y2="227.20" stroke="#333" stroke-width="1.3"/>
<line x1="55.45" y1="222.00" x2="60.65" y2="222.00" stroke="#333" stroke-width="1.3"/>
<rect x="68.00" y="277.10" width="10.00" height="24.40" fill="#c8102e" stroke="none" stroke-width="0"/>
<line x1="73.00" y1="274.50" x2="73.00" y2="277.10" stroke="#333" stroke-width="1.3"/>
<line x1="70.40" y1="274.50" x2="75.60" y2="274.50" stroke="#333" stroke-width="1.3"/>
<rect x="83.10" y="226.80" width="9.90" height="74.70" fill="#155083" stroke="none" stroke-width="0"/>
<line x1="88.05" y1="220.40" x2="88.05" y2="226.80" stroke="#333" stroke-width="1.3"/>
<line x1="85.45" y1="220.40" x2="90.65" y2="220.40" stroke="#333" stroke-width="1.3"/>
<line x1="57.20" y1="199.30" x2="86.50" y2="199.30" stroke="#333" stroke-width="1.1"/>
<text x="71.85" y="197.70" font-size="5.8" text-anchor="middle" font-style="italic" fill="#333">n.s.</text>
<line x1="43.40" y1="205.80" x2="86.50" y2="205.80" stroke="#333" stroke-width="1.1"/>
<text x="64.95" y="204.20" font-size="5.8" text-anchor="middle" font-style="italic" fill="#333">n.s.</text>
<line x1="43.40" y1="212.20" x2="72.00" y2="212.20" stroke="#333" stroke-width="1.1"/>
<text x="57.70" y="212.90" font-size="6.4" text-anchor="middle" fill="#333">***</text>
<line x1="43.40" y1="219.00" x2="55.80" y2="219.00" stroke="#333" stroke-width="1.1"/>
<text x="49.60" y="217.40" font-size="5.8" text-anchor="middle" font-style="italic" fill="#333">n.s.</text>
<line x1="58.90" y1="219.00" x2="72.00" y2="219.00" stroke="#333" stroke-width="1.1"/>
<text x="65.45" y="219.70" font-size="6.4" text-anchor="middle" fill="#333">***</text>
<text x="14.60" y="244.90" font-size="9.2" text-anchor="middle" stroke="#333" stroke-width="0.22" fill="#333" textLength="79.70" lengthAdjust="spacingAndGlyphs" transform="rotate(-90 14.60 244.90)">Shannon diversity index</text>
<text x="47.00" y="309.20" font-size="8.96" text-anchor="end" stroke="#222" stroke-width="0.1" fill="#222" textLength="11.55" lengthAdjust="spacingAndGlyphs" transform="rotate(-45 47.00 309.20)">HC</text>
<text x="62.00" y="309.20" font-size="8.96" text-anchor="end" stroke="#222" stroke-width="0.1" fill="#222" textLength="39.57" lengthAdjust="spacingAndGlyphs" transform="rotate(-45 62.00 309.20)">SCID other</text>
<text x="77.00" y="309.20" font-size="8.96" text-anchor="end" stroke="#222" stroke-width="0.1" fill="#222" textLength="33.34" lengthAdjust="spacingAndGlyphs" transform="rotate(-45 77.00 309.20)">GC/JAK3</text>
<text x="92.00" y="309.20" font-size="8.96" text-anchor="end" stroke="#222" stroke-width="0.1" fill="#222" textLength="55.21" lengthAdjust="spacingAndGlyphs" transform="rotate(-45 92.00 309.20)">GC/JAK3+IgRT</text>
<line x1="137.70" y1="194.00" x2="137.70" y2="302.10" stroke="#1a1a1a" stroke-width="1.3"/>
<line x1="137.10" y1="301.50" x2="198.70" y2="301.50" stroke="#1a1a1a" stroke-width="1.3"/>
<line x1="168.00" y1="301.50" x2="168.00" y2="304.00" stroke="#1a1a1a" stroke-width="1"/>
<line x1="134.30" y1="301.50" x2="137.70" y2="301.50" stroke="#1a1a1a" stroke-width="1.1"/>
<text x="133.20" y="304.30" font-size="6.4" text-anchor="end" fill="#333">0.0</text>
<line x1="134.30" y1="291.06" x2="137.70" y2="291.06" stroke="#1a1a1a" stroke-width="1.1"/>
<text x="133.20" y="293.86" font-size="6.4" text-anchor="end" fill="#333">0.1</text>
<line x1="134.30" y1="280.62" x2="137.70" y2="280.62" stroke="#1a1a1a" stroke-width="1.1"/>
<text x="133.20" y="283.42" font-size="6.4" text-anchor="end" fill="#333">0.2</text>
<line x1="134.30" y1="270.18" x2="137.70" y2="270.18" stroke="#1a1a1a" stroke-width="1.1"/>
<text x="133.20" y="272.98" font-size="6.4" text-anchor="end" fill="#333">0.3</text>
<line x1="134.30" y1="259.74" x2="137.70" y2="259.74" stroke="#1a1a1a" stroke-width="1.1"/>
<text x="133.20" y="262.54" font-size="6.4" text-anchor="end" fill="#333">0.4</text>
<line x1="134.30" y1="249.30" x2="137.70" y2="249.30" stroke="#1a1a1a" stroke-width="1.1"/>
<text x="133.20" y="252.10" font-size="6.4" text-anchor="end" fill="#333">0.5</text>
<line x1="134.30" y1="238.86" x2="137.70" y2="238.86" stroke="#1a1a1a" stroke-width="1.1"/>
<text x="133.20" y="241.66" font-size="6.4" text-anchor="end" fill="#333">0.6</text>
<line x1="134.30" y1="228.42" x2="137.70" y2="228.42" stroke="#1a1a1a" stroke-width="1.1"/>
<text x="133.20" y="231.22" font-size="6.4" text-anchor="end" fill="#333">0.7</text>
<line x1="134.30" y1="217.98" x2="137.70" y2="217.98" stroke="#1a1a1a" stroke-width="1.1"/>
<text x="133.20" y="220.78" font-size="6.4" text-anchor="end" fill="#333">0.8</text>
<line x1="134.30" y1="207.54" x2="137.70" y2="207.54" stroke="#1a1a1a" stroke-width="1.1"/>
<text x="133.20" y="210.34" font-size="6.4" text-anchor="end" fill="#333">0.9</text>
<line x1="134.30" y1="197.10" x2="137.70" y2="197.10" stroke="#1a1a1a" stroke-width="1.1"/>
<text x="133.20" y="199.90" font-size="6.4" text-anchor="end" fill="#333">1.0</text>
<rect x="140.30" y="224.40" width="9.90" height="77.10" fill="#58226f" stroke="none" stroke-width="0"/>
<line x1="145.25" y1="221.70" x2="145.25" y2="224.40" stroke="#333" stroke-width="1.3"/>
<line x1="142.65" y1="221.70" x2="147.85" y2="221.70" stroke="#333" stroke-width="1.3"/>
<rect x="155.50" y="222.30" width="10.10" height="79.20" fill="#3cb44b" stroke="none" stroke-width="0"/>
<line x1="160.55" y1="218.50" x2="160.55" y2="222.30" stroke="#333" stroke-width="1.3"/>
<line x1="157.95" y1="218.50" x2="163.15" y2="218.50" stroke="#333" stroke-width="1.3"/>
<rect x="171.00" y="269.20" width="10.00" height="32.30" fill="#c8102e" stroke="none" stroke-width="0"/>
<line x1="176.00" y1="264.20" x2="176.00" y2="269.20" stroke="#333" stroke-width="1.3"/>
<line x1="173.40" y1="264.20" x2="178.60" y2="264.20" stroke="#333" stroke-width="1.3"/>
<rect x="186.20" y="216.50" width="10.10" height="85.00" fill="#155083" stroke="none" stroke-width="0"/>
<line x1="191.25" y1="212.50" x2="191.25" y2="216.50" stroke="#333" stroke-width="1.3"/>
<line x1="188.65" y1="212.50" x2="193.85" y2="212.50" stroke="#333" stroke-width="1.3"/>
<line x1="160.80" y1="197.20" x2="189.60" y2="197.20" stroke="#333" stroke-width="1.1"/>
<text x="175.20" y="195.60" font-size="5.8" text-anchor="middle" font-style="italic" fill="#333">n.s.</text>
<line x1="147.00" y1="203.50" x2="189.60" y2="203.50" stroke="#333" stroke-width="1.1"/>
<text x="168.30" y="201.90" font-size="5.8" text-anchor="middle" font-style="italic" fill="#333">n.s.</text>
<line x1="147.00" y1="209.20" x2="175.80" y2="209.20" stroke="#333" stroke-width="1.1"/>
<text x="161.40" y="209.90" font-size="6.4" text-anchor="middle" fill="#333">***</text>
<line x1="147.00" y1="215.50" x2="159.60" y2="215.50" stroke="#333" stroke-width="1.1"/>
<text x="153.30" y="213.90" font-size="5.8" text-anchor="middle" font-style="italic" fill="#333">n.s.</text>
<line x1="162.60" y1="215.50" x2="175.80" y2="215.50" stroke="#333" stroke-width="1.1"/>
<text x="169.20" y="216.20" font-size="6.4" text-anchor="middle" fill="#333">***</text>
<text x="118.20" y="250.90" font-size="9.2" text-anchor="middle" stroke="#333" stroke-width="0.22" fill="#333" textLength="80.40" lengthAdjust="spacingAndGlyphs" transform="rotate(-90 118.20 250.90)">Simpson diversity index</text>
<text x="149.50" y="309.10" font-size="8.96" text-anchor="end" stroke="#222" stroke-width="0.1" fill="#222" textLength="11.55" lengthAdjust="spacingAndGlyphs" transform="rotate(-45 149.50 309.10)">HC</text>
<text x="164.50" y="309.10" font-size="8.96" text-anchor="end" stroke="#222" stroke-width="0.1" fill="#222" textLength="39.57" lengthAdjust="spacingAndGlyphs" transform="rotate(-45 164.50 309.10)">SCID other</text>
<text x="180.00" y="309.10" font-size="8.96" text-anchor="end" stroke="#222" stroke-width="0.1" fill="#222" textLength="33.34" lengthAdjust="spacingAndGlyphs" transform="rotate(-45 180.00 309.10)">GC/JAK3</text>
<text x="195.50" y="309.10" font-size="8.96" text-anchor="end" stroke="#222" stroke-width="0.1" fill="#222" textLength="55.21" lengthAdjust="spacingAndGlyphs" transform="rotate(-45 195.50 309.10)">GC/JAK3+IgRT</text>
<text x="250.80" y="192.40" font-size="10.6" text-anchor="start" font-weight="bold" fill="#000" textLength="8.27" lengthAdjust="spacingAndGlyphs">D</text>
<rect x="289.10" y="200.10" width="18.30" height="32.40" fill="#1f77b4" stroke="#fff" stroke-width="0.35"/>
<rect x="289.10" y="232.50" width="18.30" height="1.10" fill="#ff7f0e" stroke="none" stroke-width="0"/>
<rect x="289.10" y="233.60" width="18.30" height="39.20" fill="#ffbb78" stroke="#fff" stroke-width="0.35"/>
<rect x="289.10" y="272.80" width="18.30" height="10.90" fill="#2ca02c" stroke="#fff" stroke-width="0.35"/>
<rect x="289.10" y="283.70" width="18.30" height="29.30" fill="#98df8a" stroke="#fff" stroke-width="0.35"/>
<rect x="289.10" y="313.00" width="18.30" height="2.35" fill="#d62728" stroke="#fff" stroke-width="0.35"/>
<rect x="289.10" y="315.30" width="18.30" height="1.25" fill="#c5b0d5" stroke="none" stroke-width="0"/>
<rect x="289.10" y="316.50" width="18.30" height="1.05" fill="#9467bd" stroke="none" stroke-width="0"/>
<rect x="289.10" y="317.50" width="18.30" height="1.05" fill="#ff9896" stroke="none" stroke-width="0"/>
<rect x="289.10" y="318.50" width="18.30" height="1.35" fill="#f7b6d2" stroke="none" stroke-width="0"/>
<rect x="289.10" y="319.80" width="18.30" height="0.75" fill="#c7c7c7" stroke="none" stroke-width="0"/>
<rect x="289.10" y="320.50" width="18.30" height="1.05" fill="#c49c94" stroke="none" stroke-width="0"/>
<rect x="289.10" y="321.50" width="18.30" height="0.85" fill="#9edae5" stroke="none" stroke-width="0"/>
<rect x="289.10" y="322.30" width="18.30" height="3.25" fill="#1f77b4" stroke="#fff" stroke-width="0.35"/>
<rect x="289.10" y="325.50" width="18.30" height="0.85" fill="#8c564b" stroke="none" stroke-width="0"/>
<rect x="289.10" y="326.30" width="18.30" height="1.25" fill="#ffbb78" stroke="none" stroke-width="0"/>
<rect x="289.10" y="327.50" width="18.30" height="1.35" fill="#9edae5" stroke="none" stroke-width="0"/>
<rect x="289.10" y="328.80" width="18.30" height="1.50" fill="#c7c7c7" stroke="none" stroke-width="0"/>
<rect x="310.10" y="200.10" width="18.30" height="33.60" fill="#1f77b4" stroke="#fff" stroke-width="0.35"/>
<rect x="310.10" y="233.70" width="18.30" height="2.90" fill="#aec7e8" stroke="#fff" stroke-width="0.35"/>
<rect x="310.10" y="236.60" width="18.30" height="2.20" fill="#ff7f0e" stroke="#fff" stroke-width="0.35"/>
<rect x="310.10" y="238.80" width="18.30" height="28.50" fill="#ffbb78" stroke="#fff" stroke-width="0.35"/>
<rect x="310.10" y="267.30" width="18.30" height="23.40" fill="#2ca02c" stroke="#fff" stroke-width="0.35"/>
<rect x="310.10" y="290.70" width="18.30" height="3.10" fill="#98df8a" stroke="#fff" stroke-width="0.35"/>
<rect x="310.10" y="293.80" width="18.30" height="2.75" fill="#d62728" stroke="#fff" stroke-width="0.35"/>
<rect x="310.10" y="296.50" width="18.30" height="3.35" fill="#ff9896" stroke="#fff" stroke-width="0.35"/>
<rect x="310.10" y="299.80" width="18.30" height="3.25" fill="#c5b0d5" stroke="#fff" stroke-width="0.35"/>
<rect x="310.10" y="303.00" width="18.30" height="3.05" fill="#8c564b" stroke="#fff" stroke-width="0.35"/>
<rect x="310.10" y="306.00" width="18.30" height="1.55" fill="#f7b6d2" stroke="none" stroke-width="0"/>
<rect x="310.10" y="307.50" width="18.30" height="3.55" fill="#e377c2" stroke="#fff" stroke-width="0.35"/>
<rect x="310.10" y="311.00" width="18.30" height="1.55" fill="#dbdb8d" stroke="none" stroke-width="0"/>
<rect x="310.10" y="312.50" width="18.30" height="1.05" fill="#2ca02c" stroke="none" stroke-width="0"/>
<rect x="310.10" y="313.50" width="18.30" height="1.55" fill="#f7b6d2" stroke="none" stroke-width="0"/>
<rect x="310.10" y="315.00" width="18.30" height="1.55" fill="#9467bd" stroke="none" stroke-width="0"/>
<rect x="310.10" y="316.50" width="18.30" height="1.55" fill="#17becf" stroke="none" stroke-width="0"/>
<rect x="310.10" y="318.00" width="18.30" height="1.05" fill="#c7c7c7" stroke="none" stroke-width="0"/>
<rect x="310.10" y="319.00" width="18.30" height="1.55" fill="#8c564b" stroke="none" stroke-width="0"/>
<rect x="310.10" y="320.50" width="18.30" height="1.55" fill="#f7b6d2" stroke="none" stroke-width="0"/>
<rect x="310.10" y="322.00" width="18.30" height="1.05" fill="#d62728" stroke="none" stroke-width="0"/>
<rect x="310.10" y="323.00" width="18.30" height="1.55" fill="#aec7e8" stroke="none" stroke-width="0"/>
<rect x="310.10" y="324.50" width="18.30" height="1.55" fill="#98df8a" stroke="none" stroke-width="0"/>
<rect x="310.10" y="326.00" width="18.30" height="1.55" fill="#ffbb78" stroke="none" stroke-width="0"/>
<rect x="310.10" y="327.50" width="18.30" height="2.80" fill="#c7c7c7" stroke="#fff" stroke-width="0.35"/>
<rect x="330.20" y="200.10" width="18.30" height="23.60" fill="#1f77b4" stroke="#fff" stroke-width="0.35"/>
<rect x="330.20" y="223.70" width="18.30" height="76.10" fill="#aec7e8" stroke="#fff" stroke-width="0.35"/>
<rect x="330.20" y="299.80" width="18.30" height="22.90" fill="#ff7f0e" stroke="#fff" stroke-width="0.35"/>
<rect x="330.20" y="322.70" width="18.30" height="2.20" fill="#ffbb78" stroke="none" stroke-width="0"/>
<rect x="330.20" y="324.90" width="18.30" height="2.70" fill="#2ca02c" stroke="#fff" stroke-width="0.35"/>
<rect x="330.20" y="327.60" width="18.30" height="2.70" fill="#c49c94" stroke="#fff" stroke-width="0.35"/>
<rect x="350.90" y="200.10" width="18.30" height="6.80" fill="#1f77b4" stroke="#fff" stroke-width="0.35"/>
<rect x="350.90" y="206.90" width="18.30" height="4.10" fill="#aec7e8" stroke="#fff" stroke-width="0.35"/>
<rect x="350.90" y="211.00" width="18.30" height="31.10" fill="#ff7f0e" stroke="#fff" stroke-width="0.35"/>
<rect x="350.90" y="242.10" width="18.30" height="16.90" fill="#ffbb78" stroke="#fff" stroke-width="0.35"/>
<rect x="350.90" y="259.00" width="18.30" height="39.00" fill="#2ca02c" stroke="#fff" stroke-width="0.35"/>
<rect x="350.90" y="298.00" width="18.30" height="5.55" fill="#d62728" stroke="#fff" stroke-width="0.35"/>
<rect x="350.90" y="303.50" width="18.30" height="5.55" fill="#ff9896" stroke="#fff" stroke-width="0.35"/>
<rect x="350.90" y="309.00" width="18.30" height="2.55" fill="#9467bd" stroke="#fff" stroke-width="0.35"/>
<rect x="350.90" y="311.50" width="18.30" height="1.55" fill="#c5b0d5" stroke="none" stroke-width="0"/>
<rect x="350.90" y="313.00" width="18.30" height="2.05" fill="#c49c94" stroke="none" stroke-width="0"/>
<rect x="350.90" y="315.00" width="18.30" height="1.05" fill="#c7c7c7" stroke="none" stroke-width="0"/>
<rect x="350.90" y="316.00" width="18.30" height="1.55" fill="#dbdb8d" stroke="none" stroke-width="0"/>
<rect x="350.90" y="317.50" width="18.30" height="2.05" fill="#aec7e8" stroke="none" stroke-width="0"/>
<rect x="350.90" y="319.50" width="18.30" height="1.05" fill="#9edae5" stroke="none" stroke-width="0"/>
<rect x="350.90" y="320.50" width="18.30" height="1.55" fill="#d62728" stroke="none" stroke-width="0"/>
<rect x="350.90" y="322.00" width="18.30" height="1.55" fill="#ff9896" stroke="none" stroke-width="0"/>
<rect x="350.90" y="323.50" width="18.30" height="1.55" fill="#7f7f7f" stroke="none" stroke-width="0"/>
<rect x="350.90" y="325.00" width="18.30" height="1.05" fill="#17becf" stroke="none" stroke-width="0"/>
<rect x="350.90" y="326.00" width="18.30" height="1.55" fill="#ffbb78" stroke="none" stroke-width="0"/>
<rect x="350.90" y="327.50" width="18.30" height="2.80" fill="#ff9896" stroke="#fff" stroke-width="0.35"/>
<line x1="286.40" y1="194.00" x2="286.40" y2="336.10" stroke="#1a1a1a" stroke-width="1.3"/>
<line x1="285.80" y1="335.50" x2="371.80" y2="335.50" stroke="#1a1a1a" stroke-width="1.3"/>
<line x1="283.40" y1="200.20" x2="286.40" y2="200.20" stroke="#1a1a1a" stroke-width="1"/>
<text x="279.80" y="202.90" font-size="8.18" text-anchor="end" stroke="#333" stroke-width="0.22" fill="#333" textLength="14.21" lengthAdjust="spacingAndGlyphs">1.00</text>
<line x1="283.40" y1="232.75" x2="286.40" y2="232.75" stroke="#1a1a1a" stroke-width="1"/>
<text x="279.80" y="235.45" font-size="8.18" text-anchor="end" stroke="#333" stroke-width="0.22" fill="#333" textLength="14.21" lengthAdjust="spacingAndGlyphs">0.75</text>
<line x1="283.40" y1="265.30" x2="286.40" y2="265.30" stroke="#1a1a1a" stroke-width="1"/>
<text x="279.80" y="268.00" font-size="8.18" text-anchor="end" stroke="#333" stroke-width="0.22" fill="#333" textLength="14.21" lengthAdjust="spacingAndGlyphs">0.50</text>
<line x1="283.40" y1="297.85" x2="286.40" y2="297.85" stroke="#1a1a1a" stroke-width="1"/>
<text x="279.80" y="300.55" font-size="8.18" text-anchor="end" stroke="#333" stroke-width="0.22" fill="#333" textLength="14.21" lengthAdjust="spacingAndGlyphs">0.25</text>
<line x1="283.40" y1="330.40" x2="286.40" y2="330.40" stroke="#1a1a1a" stroke-width="1"/>
<text x="279.80" y="333.10" font-size="8.18" text-anchor="end" stroke="#333" stroke-width="0.22" fill="#333" textLength="14.21" lengthAdjust="spacingAndGlyphs">0.00</text>
<line x1="298.25" y1="335.50" x2="298.25" y2="338.60" stroke="#1a1a1a" stroke-width="1"/>
<line x1="319.25" y1="335.50" x2="319.25" y2="338.60" stroke="#1a1a1a" stroke-width="1"/>
<line x1="339.35" y1="335.50" x2="339.35" y2="338.60" stroke="#1a1a1a" stroke-width="1"/>
<line x1="360.05" y1="335.50" x2="360.05" y2="338.60" stroke="#1a1a1a" stroke-width="1"/>
<text x="257.40" y="263.30" font-size="8.4" text-anchor="middle" stroke="#333" stroke-width="0.22" fill="#333" textLength="77.70" lengthAdjust="spacingAndGlyphs" transform="rotate(-90 257.40 263.30)">Relative abundance (%)</text>
<text x="301.75" y="343.50" font-size="9.18" text-anchor="end" stroke="#222" stroke-width="0.1" fill="#222" textLength="11.84" lengthAdjust="spacingAndGlyphs" transform="rotate(-45 301.75 343.50)">HC</text>
<text x="322.75" y="343.50" font-size="9.18" text-anchor="end" stroke="#222" stroke-width="0.1" fill="#222" textLength="40.56" lengthAdjust="spacingAndGlyphs" transform="rotate(-45 322.75 343.50)">SCID other</text>
<text x="342.85" y="343.50" font-size="9.18" text-anchor="end" stroke="#222" stroke-width="0.1" fill="#222" textLength="34.18" lengthAdjust="spacingAndGlyphs" transform="rotate(-45 342.85 343.50)">GC/JAK3</text>
<text x="363.55" y="343.50" font-size="9.18" text-anchor="end" stroke="#222" stroke-width="0.1" fill="#222" textLength="56.59" lengthAdjust="spacingAndGlyphs" transform="rotate(-45 363.55 343.50)">GC/JAK3+IgRT</text>
<rect x="373.60" y="202.90" width="6.60" height="6.30" fill="#1f77b4" stroke="none" stroke-width="0"/>
<text x="381.80" y="208.40" font-size="8.14" text-anchor="start" stroke="#222" stroke-width="0.12" font-style="italic" fill="#222" textLength="32.08" lengthAdjust="spacingAndGlyphs">Moraxella</text>
<rect x="373.60" y="210.17" width="6.60" height="6.30" fill="#aec7e8" stroke="none" stroke-width="0"/>
<text x="381.80" y="215.67" font-size="8.14" text-anchor="start" stroke="#222" stroke-width="0.12" font-style="italic" fill="#222" textLength="46.89" lengthAdjust="spacingAndGlyphs">Streptococcus</text>
<rect x="373.60" y="217.44" width="6.60" height="6.30" fill="#ff7f0e" stroke="none" stroke-width="0"/>
<text x="381.80" y="222.94" font-size="8.14" text-anchor="start" stroke="#222" stroke-width="0.12" font-style="italic" fill="#222" textLength="43.19" lengthAdjust="spacingAndGlyphs">Haemophilus</text>
<rect x="373.60" y="224.71" width="6.60" height="6.30" fill="#ffbb78" stroke="none" stroke-width="0"/>
<text x="381.80" y="230.21" font-size="8.14" text-anchor="start" stroke="#222" stroke-width="0.12" font-style="italic" fill="#222" textLength="56.34" lengthAdjust="spacingAndGlyphs">Corynebacterium</text>
<rect x="373.60" y="231.98" width="6.60" height="6.30" fill="#2ca02c" stroke="none" stroke-width="0"/>
<text x="381.80" y="237.48" font-size="8.14" text-anchor="start" stroke="#222" stroke-width="0.12" font-style="italic" fill="#222" textLength="51.83" lengthAdjust="spacingAndGlyphs">Staphylococcus</text>
<rect x="373.60" y="239.25" width="6.60" height="6.30" fill="#98df8a" stroke="none" stroke-width="0"/>
<text x="381.80" y="244.75" font-size="8.14" text-anchor="start" stroke="#222" stroke-width="0.12" font-style="italic" fill="#222" textLength="51.41" lengthAdjust="spacingAndGlyphs">Dolosigranulum</text>
<rect x="373.60" y="246.52" width="6.60" height="6.30" fill="#d62728" stroke="none" stroke-width="0"/>
<text x="381.80" y="252.02" font-size="8.14" text-anchor="start" stroke="#222" stroke-width="0.12" font-style="italic" fill="#222" textLength="47.31" lengthAdjust="spacingAndGlyphs">Pseudomonas</text>
<rect x="373.60" y="253.79" width="6.60" height="6.30" fill="#ff9896" stroke="none" stroke-width="0"/>
<text x="381.80" y="259.29" font-size="8.14" text-anchor="start" stroke="#222" stroke-width="0.12" font-style="italic" fill="#222" textLength="37.02" lengthAdjust="spacingAndGlyphs">Lawsonella</text>
<rect x="373.60" y="261.06" width="6.60" height="6.30" fill="#9467bd" stroke="none" stroke-width="0"/>
<text x="381.80" y="266.56" font-size="8.14" text-anchor="start" stroke="#222" stroke-width="0.12" font-style="italic" fill="#222" textLength="30.84" lengthAdjust="spacingAndGlyphs">Neisseria</text>
<rect x="373.60" y="268.33" width="6.60" height="6.30" fill="#c5b0d5" stroke="none" stroke-width="0"/>
<text x="381.80" y="273.83" font-size="8.14" text-anchor="start" stroke="#222" stroke-width="0.12" font-style="italic" fill="#222" textLength="46.89" lengthAdjust="spacingAndGlyphs">Anaerococcus</text>
<rect x="373.60" y="275.60" width="6.60" height="6.30" fill="#8c564b" stroke="none" stroke-width="0"/>
<text x="381.80" y="281.10" font-size="8.14" text-anchor="start" stroke="#222" stroke-width="0.12" font-style="italic" fill="#222" textLength="41.53" lengthAdjust="spacingAndGlyphs">Mycoplasma</text>
<rect x="452.70" y="233.00" width="6.20" height="6.10" fill="#58226f" stroke="none" stroke-width="0"/>
<text x="461.10" y="238.80" font-size="8.25" text-anchor="start" stroke="#222" stroke-width="0.12" fill="#222" textLength="10.83" lengthAdjust="spacingAndGlyphs">HC</text>
<rect x="452.70" y="244.60" width="6.20" height="6.10" fill="#3cb44b" stroke="none" stroke-width="0"/>
<text x="461.10" y="250.40" font-size="8.25" text-anchor="start" stroke="#222" stroke-width="0.12" fill="#222" textLength="37.10" lengthAdjust="spacingAndGlyphs">SCID other</text>
<rect x="452.70" y="256.20" width="6.20" height="6.10" fill="#c8102e" stroke="none" stroke-width="0"/>
<text x="461.10" y="262.00" font-size="8.25" text-anchor="start" stroke="#222" stroke-width="0.12" fill="#222" textLength="31.26" lengthAdjust="spacingAndGlyphs">GC/JAK3</text>
<rect x="452.70" y="267.80" width="6.20" height="6.10" fill="#155083" stroke="none" stroke-width="0"/>
<text x="461.10" y="273.60" font-size="8.25" text-anchor="start" stroke="#222" stroke-width="0.12" fill="#222" textLength="51.76" lengthAdjust="spacingAndGlyphs">GC/JAK3+IgRT</text>
<text x="5.80" y="394.80" font-size="10.6" text-anchor="start" font-weight="bold" fill="#000" textLength="7.64" lengthAdjust="spacingAndGlyphs">E</text>
<line x1="36.00" y1="434.90" x2="100.90" y2="434.90" stroke="#1a1a1a" stroke-width="1.2" stroke-dasharray="0.9 0.8"/>
<line x1="44.40" y1="426.80" x2="44.40" y2="426.80" stroke="#333" stroke-width="1"/>
<line x1="44.40" y1="445.60" x2="44.40" y2="449.10" stroke="#333" stroke-width="1"/>
<rect x="39.15" y="427.05" width="10.50" height="18.30" fill="#b49ccb" stroke="#a07fba" stroke-width="0.5"/>
<line x1="38.90" y1="434.40" x2="49.90" y2="434.40" stroke="#3a3a3a" stroke-width="1.4"/>
<path d="M42.20 426.80L44.40 425.04L46.60 426.80L44.40 428.56Z" fill="#5a1a78"/>
<path d="M42.20 449.10L44.40 447.34L46.60 449.10L44.40 450.86Z" fill="#5a1a78"/>
<circle cx="40.70" cy="427.90" r="1.55" fill="#5a1a78"/>
<circle cx="47.80" cy="426.80" r="1.55" fill="#5a1a78"/>
<circle cx="44.20" cy="429.10" r="1.55" fill="#5a1a78"/>
<circle cx="46.00" cy="430.90" r="1.55" fill="#5a1a78"/>
<circle cx="41.30" cy="432.60" r="1.55" fill="#5a1a78"/>
<circle cx="44.20" cy="433.80" r="1.55" fill="#5a1a78"/>
<circle cx="46.00" cy="436.20" r="1.55" fill="#5a1a78"/>
<circle cx="43.60" cy="440.10" r="1.55" fill="#5a1a78"/>
<circle cx="40.70" cy="443.20" r="1.55" fill="#5a1a78"/>
<circle cx="47.80" cy="442.60" r="1.55" fill="#5a1a78"/>
<circle cx="44.00" cy="444.40" r="1.55" fill="#5a1a78"/>
<line x1="60.10" y1="422.10" x2="60.10" y2="434.40" stroke="#333" stroke-width="1"/>
<line x1="60.10" y1="448.80" x2="60.10" y2="461.70" stroke="#333" stroke-width="1"/>
<rect x="55.05" y="434.65" width="10.10" height="13.90" fill="#a6e0a6" stroke="#8fd48f" stroke-width="0.5"/>
<line x1="54.80" y1="439.70" x2="65.40" y2="439.70" stroke="#3a3a3a" stroke-width="1.4"/>
<path d="M57.90 422.10L60.10 420.34L62.30 422.10L60.10 423.86Z" fill="#2cb83c"/>
<path d="M57.90 461.70L60.10 459.94L62.30 461.70L60.10 463.46Z" fill="#2cb83c"/>
<circle cx="56.60" cy="433.20" r="1.55" fill="#2cb83c"/>
<circle cx="60.10" cy="435.80" r="1.55" fill="#2cb83c"/>
<circle cx="64.00" cy="435.40" r="1.55" fill="#2cb83c"/>
<circle cx="60.10" cy="439.70" r="1.55" fill="#2cb83c"/>
<circle cx="62.10" cy="443.60" r="1.55" fill="#2cb83c"/>
<circle cx="58.40" cy="446.40" r="1.55" fill="#2cb83c"/>
<circle cx="60.10" cy="452.60" r="1.55" fill="#2cb83c"/>
<line x1="76.50" y1="466.70" x2="76.50" y2="483.10" stroke="#333" stroke-width="1"/>
<rect x="71.35" y="442.45" width="10.30" height="24.00" fill="#e58aa0" stroke="#d9708a" stroke-width="0.5"/>
<line x1="71.10" y1="455.90" x2="81.90" y2="455.90" stroke="#3a3a3a" stroke-width="1.4"/>
<path d="M74.30 483.10L76.50 481.34L78.70 483.10L76.50 484.86Z" fill="#d01030"/>
<circle cx="74.30" cy="441.00" r="1.55" fill="#d01030"/>
<circle cx="78.10" cy="442.60" r="1.55" fill="#d01030"/>
<circle cx="76.20" cy="452.40" r="1.55" fill="#d01030"/>
<circle cx="74.30" cy="461.90" r="1.55" fill="#d01030"/>
<circle cx="78.10" cy="464.70" r="1.55" fill="#d01030"/>
<line x1="92.30" y1="430.40" x2="92.30" y2="434.00" stroke="#333" stroke-width="1"/>
<line x1="92.30" y1="443.70" x2="92.30" y2="464.70" stroke="#333" stroke-width="1"/>
<rect x="87.25" y="434.25" width="10.20" height="9.20" fill="#8fb2d4" stroke="#739fc9" stroke-width="0.5"/>
<line x1="87.00" y1="436.30" x2="97.70" y2="436.30" stroke="#3a3a3a" stroke-width="1.4"/>
<path d="M90.10 430.40L92.30 428.64L94.50 430.40L92.30 432.16Z" fill="#1a5590"/>
<path d="M90.10 464.70L92.30 462.94L94.50 464.70L92.30 466.46Z" fill="#1a5590"/>
<circle cx="88.90" cy="435.50" r="1.55" fill="#1a5590"/>
<circle cx="96.20" cy="435.50" r="1.55" fill="#1a5590"/>
<circle cx="92.30" cy="437.80" r="1.55" fill="#1a5590"/>
<circle cx="92.30" cy="442.20" r="1.55" fill="#1a5590"/>
<line x1="36.00" y1="397.30" x2="36.00" y2="497.80" stroke="#1a1a1a" stroke-width="1.5"/>
<line x1="35.30" y1="497.10" x2="100.50" y2="497.10" stroke="#1a1a1a" stroke-width="1.4"/>
<line x1="44.40" y1="497.10" x2="44.40" y2="499.90" stroke="#1a1a1a" stroke-width="1"/>
<line x1="60.10" y1="497.10" x2="60.10" y2="499.90" stroke="#1a1a1a" stroke-width="1"/>
<line x1="76.50" y1="497.10" x2="76.50" y2="499.90" stroke="#1a1a1a" stroke-width="1"/>
<line x1="92.30" y1="497.10" x2="92.30" y2="499.90" stroke="#1a1a1a" stroke-width="1"/>
<line x1="33.00" y1="497.10" x2="36.00" y2="497.10" stroke="#1a1a1a" stroke-width="1.4"/>
<line x1="33.80" y1="491.30" x2="36.00" y2="491.30" stroke="#1a1a1a" stroke-width="0.9"/>
<line x1="33.80" y1="487.91" x2="36.00" y2="487.91" stroke="#1a1a1a" stroke-width="0.9"/>
<line x1="33.80" y1="485.50" x2="36.00" y2="485.50" stroke="#1a1a1a" stroke-width="0.9"/>
<line x1="33.80" y1="483.64" x2="36.00" y2="483.64" stroke="#1a1a1a" stroke-width="0.9"/>
<line x1="33.80" y1="482.11" x2="36.00" y2="482.11" stroke="#1a1a1a" stroke-width="0.9"/>
<line x1="33.80" y1="480.82" x2="36.00" y2="480.82" stroke="#1a1a1a" stroke-width="0.9"/>
<line x1="33.80" y1="479.71" x2="36.00" y2="479.71" stroke="#1a1a1a" stroke-width="0.9"/>
<line x1="33.80" y1="478.72" x2="36.00" y2="478.72" stroke="#1a1a1a" stroke-width="0.9"/>
<text x="26.65" y="500.00" font-size="7.6" text-anchor="end" stroke="#222" stroke-width="0.22" fill="#222">10</text>
<text x="31.20" y="497.70" font-size="5.0" text-anchor="end" fill="#222">-2</text>
<line x1="33.00" y1="477.84" x2="36.00" y2="477.84" stroke="#1a1a1a" stroke-width="1.4"/>
<line x1="33.80" y1="472.04" x2="36.00" y2="472.04" stroke="#1a1a1a" stroke-width="0.9"/>
<line x1="33.80" y1="468.65" x2="36.00" y2="468.65" stroke="#1a1a1a" stroke-width="0.9"/>
<line x1="33.80" y1="466.24" x2="36.00" y2="466.24" stroke="#1a1a1a" stroke-width="0.9"/>
<line x1="33.80" y1="464.38" x2="36.00" y2="464.38" stroke="#1a1a1a" stroke-width="0.9"/>
<line x1="33.80" y1="462.85" x2="36.00" y2="462.85" stroke="#1a1a1a" stroke-width="0.9"/>
<line x1="33.80" y1="461.56" x2="36.00" y2="461.56" stroke="#1a1a1a" stroke-width="0.9"/>
<line x1="33.80" y1="460.45" x2="36.00" y2="460.45" stroke="#1a1a1a" stroke-width="0.9"/>
<line x1="33.80" y1="459.46" x2="36.00" y2="459.46" stroke="#1a1a1a" stroke-width="0.9"/>
<text x="26.65" y="480.74" font-size="7.6" text-anchor="end" stroke="#222" stroke-width="0.22" fill="#222">10</text>
<text x="31.20" y="478.44" font-size="5.0" text-anchor="end" fill="#222">-1</text>
<line x1="33.00" y1="458.58" x2="36.00" y2="458.58" stroke="#1a1a1a" stroke-width="1.4"/>
<line x1="33.80" y1="452.78" x2="36.00" y2="452.78" stroke="#1a1a1a" stroke-width="0.9"/>
<line x1="33.80" y1="449.39" x2="36.00" y2="449.39" stroke="#1a1a1a" stroke-width="0.9"/>
<line x1="33.80" y1="446.98" x2="36.00" y2="446.98" stroke="#1a1a1a" stroke-width="0.9"/>
<line x1="33.80" y1="445.12" x2="36.00" y2="445.12" stroke="#1a1a1a" stroke-width="0.9"/>
<line x1="33.80" y1="443.59" x2="36.00" y2="443.59" stroke="#1a1a1a" stroke-width="0.9"/>
<line x1="33.80" y1="442.30" x2="36.00" y2="442.30" stroke="#1a1a1a" stroke-width="0.9"/>
<line x1="33.80" y1="441.19" x2="36.00" y2="441.19" stroke="#1a1a1a" stroke-width="0.9"/>
<line x1="33.80" y1="440.20" x2="36.00" y2="440.20" stroke="#1a1a1a" stroke-width="0.9"/>
<text x="28.32" y="461.48" font-size="7.6" text-anchor="end" stroke="#222" stroke-width="0.22" fill="#222">10</text>
<text x="31.20" y="459.18" font-size="5.0" text-anchor="end" fill="#222">0</text>
<line x1="33.00" y1="439.32" x2="36.00" y2="439.32" stroke="#1a1a1a" stroke-width="1.4"/>
<line x1="33.80" y1="433.52" x2="36.00" y2="433.52" stroke="#1a1a1a" stroke-width="0.9"/>
<line x1="33.80" y1="430.13" x2="36.00" y2="430.13" stroke="#1a1a1a" stroke-width="0.9"/>
<line x1="33.80" y1="427.72" x2="36.00" y2="427.72" stroke="#1a1a1a" stroke-width="0.9"/>
<line x1="33.80" y1="425.86" x2="36.00" y2="425.86" stroke="#1a1a1a" stroke-width="0.9"/>
<line x1="33.80" y1="424.33" x2="36.00" y2="424.33" stroke="#1a1a1a" stroke-width="0.9"/>
<line x1="33.80" y1="423.04" x2="36.00" y2="423.04" stroke="#1a1a1a" stroke-width="0.9"/>
<line x1="33.80" y1="421.93" x2="36.00" y2="421.93" stroke="#1a1a1a" stroke-width="0.9"/>
<line x1="33.80" y1="420.94" x2="36.00" y2="420.94" stroke="#1a1a1a" stroke-width="0.9"/>
<text x="28.32" y="442.22" font-size="7.6" text-anchor="end" stroke="#222" stroke-width="0.22" fill="#222">10</text>
<text x="31.20" y="439.92" font-size="5.0" text-anchor="end" fill="#222">1</text>
<line x1="33.00" y1="420.06" x2="36.00" y2="420.06" stroke="#1a1a1a" stroke-width="1.4"/>
<line x1="33.80" y1="414.26" x2="36.00" y2="414.26" stroke="#1a1a1a" stroke-width="0.9"/>
<line x1="33.80" y1="410.87" x2="36.00" y2="410.87" stroke="#1a1a1a" stroke-width="0.9"/>
<line x1="33.80" y1="408.46" x2="36.00" y2="408.46" stroke="#1a1a1a" stroke-width="0.9"/>
<line x1="33.80" y1="406.60" x2="36.00" y2="406.60" stroke="#1a1a1a" stroke-width="0.9"/>
<line x1="33.80" y1="405.07" x2="36.00" y2="405.07" stroke="#1a1a1a" stroke-width="0.9"/>
<line x1="33.80" y1="403.78" x2="36.00" y2="403.78" stroke="#1a1a1a" stroke-width="0.9"/>
<line x1="33.80" y1="402.67" x2="36.00" y2="402.67" stroke="#1a1a1a" stroke-width="0.9"/>
<line x1="33.80" y1="401.68" x2="36.00" y2="401.68" stroke="#1a1a1a" stroke-width="0.9"/>
<text x="28.32" y="422.96" font-size="7.6" text-anchor="end" stroke="#222" stroke-width="0.22" fill="#222">10</text>
<text x="31.20" y="420.66" font-size="5.0" text-anchor="end" fill="#222">2</text>
<line x1="33.00" y1="400.80" x2="36.00" y2="400.80" stroke="#1a1a1a" stroke-width="1.4"/>
<text x="28.32" y="403.70" font-size="7.6" text-anchor="end" stroke="#222" stroke-width="0.22" fill="#222">10</text>
<text x="31.20" y="401.40" font-size="5.0" text-anchor="end" fill="#222">3</text>
<line x1="45.20" y1="416.20" x2="73.60" y2="416.20" stroke="#333" stroke-width="1.1"/>
<text x="59.40" y="415.80" font-size="6.4" text-anchor="middle" fill="#333">*</text>
<text x="14.30" y="447.00" font-size="8.9" text-anchor="middle" fill="#333" stroke="#333" stroke-width="0.2" textLength="96.70" lengthAdjust="spacingAndGlyphs" transform="rotate(-90 14.30 447.00)">% of <tspan font-style="italic">Corynebacterium</tspan> genus</text>
<text x="47.70" y="507.50" font-size="8.74" text-anchor="end" stroke="#222" stroke-width="0.1" fill="#222" textLength="11.27" lengthAdjust="spacingAndGlyphs" transform="rotate(-45 47.70 507.50)">HC</text>
<text x="63.40" y="507.50" font-size="8.74" text-anchor="end" stroke="#222" stroke-width="0.1" fill="#222" textLength="38.58" lengthAdjust="spacingAndGlyphs" transform="rotate(-45 63.40 507.50)">SCID other</text>
<text x="79.80" y="507.50" font-size="8.74" text-anchor="end" stroke="#222" stroke-width="0.1" fill="#222" textLength="32.51" lengthAdjust="spacingAndGlyphs" transform="rotate(-45 79.80 507.50)">GC/JAK3</text>
<text x="95.60" y="507.50" font-size="8.74" text-anchor="end" stroke="#222" stroke-width="0.1" fill="#222" textLength="53.83" lengthAdjust="spacingAndGlyphs" transform="rotate(-45 95.60 507.50)">GC/JAK3+IgRT</text>
<line x1="173.40" y1="438.80" x2="238.60" y2="438.80" stroke="#1a1a1a" stroke-width="1.2" stroke-dasharray="0.9 0.8"/>
<line x1="182.00" y1="421.00" x2="182.00" y2="430.90" stroke="#333" stroke-width="1"/>
<line x1="182.00" y1="443.30" x2="182.00" y2="460.50" stroke="#333" stroke-width="1"/>
<rect x="177.05" y="431.15" width="9.80" height="11.90" fill="#b49ccb" stroke="#a07fba" stroke-width="0.5"/>
<line x1="176.80" y1="438.60" x2="187.10" y2="438.60" stroke="#3a3a3a" stroke-width="1.4"/>
<path d="M179.80 421.00L182.00 419.24L184.20 421.00L182.00 422.76Z" fill="#5a1a78"/>
<path d="M179.80 460.50L182.00 458.74L184.20 460.50L182.00 462.26Z" fill="#5a1a78"/>
<circle cx="179.90" cy="423.10" r="1.55" fill="#5a1a78"/>
<circle cx="183.70" cy="421.90" r="1.55" fill="#5a1a78"/>
<circle cx="181.60" cy="435.70" r="1.55" fill="#5a1a78"/>
<circle cx="178.20" cy="437.80" r="1.55" fill="#5a1a78"/>
<circle cx="180.80" cy="438.60" r="1.55" fill="#5a1a78"/>
<circle cx="183.30" cy="438.10" r="1.55" fill="#5a1a78"/>
<circle cx="185.10" cy="440.90" r="1.55" fill="#5a1a78"/>
<circle cx="179.90" cy="441.20" r="1.55" fill="#5a1a78"/>
<circle cx="180.80" cy="444.70" r="1.55" fill="#5a1a78"/>
<circle cx="181.60" cy="449.80" r="1.55" fill="#5a1a78"/>
<line x1="198.50" y1="435.70" x2="198.50" y2="442.60" stroke="#333" stroke-width="1"/>
<rect x="193.55" y="442.85" width="9.90" height="54.20" fill="#a6e0a6" stroke="#8fd48f" stroke-width="0.5"/>
<line x1="193.30" y1="452.90" x2="203.70" y2="452.90" stroke="#3a3a3a" stroke-width="1.4"/>
<path d="M196.30 435.70L198.50 433.94L200.70 435.70L198.50 437.46Z" fill="#2cb83c"/>
<circle cx="198.50" cy="440.90" r="1.55" fill="#2cb83c"/>
<circle cx="196.30" cy="445.00" r="1.55" fill="#2cb83c"/>
<circle cx="200.20" cy="448.10" r="1.55" fill="#2cb83c"/>
<circle cx="198.50" cy="453.30" r="1.55" fill="#2cb83c"/>
<circle cx="198.50" cy="471.40" r="1.55" fill="#2cb83c"/>
<circle cx="194.60" cy="497.60" r="1.55" fill="#2cb83c"/>
<circle cx="198.50" cy="497.60" r="1.55" fill="#2cb83c"/>
<circle cx="202.30" cy="497.60" r="1.55" fill="#2cb83c"/>
<line x1="214.60" y1="439.40" x2="214.60" y2="441.80" stroke="#333" stroke-width="1"/>
<line x1="214.60" y1="481.90" x2="214.60" y2="486.80" stroke="#333" stroke-width="1"/>
<rect x="209.35" y="442.05" width="10.50" height="39.60" fill="#e58aa0" stroke="#d9708a" stroke-width="0.5"/>
<line x1="209.10" y1="466.90" x2="220.10" y2="466.90" stroke="#3a3a3a" stroke-width="1.4"/>
<path d="M212.40 439.40L214.60 437.64L216.80 439.40L214.60 441.16Z" fill="#d01030"/>
<path d="M212.40 486.80L214.60 485.04L216.80 486.80L214.60 488.56Z" fill="#d01030"/>
<circle cx="216.30" cy="439.20" r="1.55" fill="#d01030"/>
<circle cx="212.50" cy="443.00" r="1.55" fill="#d01030"/>
<circle cx="214.40" cy="463.10" r="1.55" fill="#d01030"/>
<circle cx="214.40" cy="476.00" r="1.55" fill="#d01030"/>
<circle cx="214.40" cy="480.90" r="1.55" fill="#d01030"/>
<line x1="230.80" y1="465.90" x2="230.80" y2="485.30" stroke="#333" stroke-width="1"/>
<rect x="225.45" y="446.25" width="10.60" height="19.40" fill="#8fb2d4" stroke="#739fc9" stroke-width="0.5"/>
<line x1="225.20" y1="457.40" x2="236.30" y2="457.40" stroke="#3a3a3a" stroke-width="1.4"/>
<path d="M228.60 485.30L230.80 483.54L233.00 485.30L230.80 487.06Z" fill="#1a5590"/>
<circle cx="229.00" cy="445.30" r="1.55" fill="#1a5590"/>
<circle cx="232.50" cy="446.30" r="1.55" fill="#1a5590"/>
<circle cx="229.00" cy="458.30" r="1.55" fill="#1a5590"/>
<circle cx="232.50" cy="456.50" r="1.55" fill="#1a5590"/>
<circle cx="230.70" cy="463.70" r="1.55" fill="#1a5590"/>
<line x1="173.40" y1="397.30" x2="173.40" y2="497.92" stroke="#1a1a1a" stroke-width="1.5"/>
<line x1="172.70" y1="497.22" x2="238.50" y2="497.22" stroke="#1a1a1a" stroke-width="1.4"/>
<line x1="182.00" y1="497.22" x2="182.00" y2="500.02" stroke="#1a1a1a" stroke-width="1"/>
<line x1="198.50" y1="497.22" x2="198.50" y2="500.02" stroke="#1a1a1a" stroke-width="1"/>
<line x1="214.60" y1="497.22" x2="214.60" y2="500.02" stroke="#1a1a1a" stroke-width="1"/>
<line x1="230.80" y1="497.22" x2="230.80" y2="500.02" stroke="#1a1a1a" stroke-width="1"/>
<line x1="170.40" y1="497.22" x2="173.40" y2="497.22" stroke="#1a1a1a" stroke-width="1.4"/>
<line x1="171.20" y1="492.38" x2="173.40" y2="492.38" stroke="#1a1a1a" stroke-width="0.9"/>
<line x1="171.20" y1="489.55" x2="173.40" y2="489.55" stroke="#1a1a1a" stroke-width="0.9"/>
<line x1="171.20" y1="487.54" x2="173.40" y2="487.54" stroke="#1a1a1a" stroke-width="0.9"/>
<line x1="171.20" y1="485.99" x2="173.40" y2="485.99" stroke="#1a1a1a" stroke-width="0.9"/>
<line x1="171.20" y1="484.72" x2="173.40" y2="484.72" stroke="#1a1a1a" stroke-width="0.9"/>
<line x1="171.20" y1="483.64" x2="173.40" y2="483.64" stroke="#1a1a1a" stroke-width="0.9"/>
<line x1="171.20" y1="482.71" x2="173.40" y2="482.71" stroke="#1a1a1a" stroke-width="0.9"/>
<line x1="171.20" y1="481.89" x2="173.40" y2="481.89" stroke="#1a1a1a" stroke-width="0.9"/>
<text x="163.05" y="500.12" font-size="7.6" text-anchor="end" stroke="#222" stroke-width="0.22" fill="#222">10</text>
<text x="167.60" y="497.82" font-size="5.0" text-anchor="end" fill="#222">-3</text>
<line x1="170.40" y1="481.15" x2="173.40" y2="481.15" stroke="#1a1a1a" stroke-width="1.4"/>
<line x1="171.20" y1="476.31" x2="173.40" y2="476.31" stroke="#1a1a1a" stroke-width="0.9"/>
<line x1="171.20" y1="473.48" x2="173.40" y2="473.48" stroke="#1a1a1a" stroke-width="0.9"/>
<line x1="171.20" y1="471.47" x2="173.40" y2="471.47" stroke="#1a1a1a" stroke-width="0.9"/>
<line x1="171.20" y1="469.92" x2="173.40" y2="469.92" stroke="#1a1a1a" stroke-width="0.9"/>
<line x1="171.20" y1="468.65" x2="173.40" y2="468.65" stroke="#1a1a1a" stroke-width="0.9"/>
<line x1="171.20" y1="467.57" x2="173.40" y2="467.57" stroke="#1a1a1a" stroke-width="0.9"/>
<line x1="171.20" y1="466.64" x2="173.40" y2="466.64" stroke="#1a1a1a" stroke-width="0.9"/>
<line x1="171.20" y1="465.82" x2="173.40" y2="465.82" stroke="#1a1a1a" stroke-width="0.9"/>
<text x="163.05" y="484.05" font-size="7.6" text-anchor="end" stroke="#222" stroke-width="0.22" fill="#222">10</text>
<text x="167.60" y="481.75" font-size="5.0" text-anchor="end" fill="#222">-2</text>
<line x1="170.40" y1="465.08" x2="173.40" y2="465.08" stroke="#1a1a1a" stroke-width="1.4"/>
<line x1="171.20" y1="460.24" x2="173.40" y2="460.24" stroke="#1a1a1a" stroke-width="0.9"/>
<line x1="171.20" y1="457.41" x2="173.40" y2="457.41" stroke="#1a1a1a" stroke-width="0.9"/>
<line x1="171.20" y1="455.40" x2="173.40" y2="455.40" stroke="#1a1a1a" stroke-width="0.9"/>
<line x1="171.20" y1="453.85" x2="173.40" y2="453.85" stroke="#1a1a1a" stroke-width="0.9"/>
<line x1="171.20" y1="452.58" x2="173.40" y2="452.58" stroke="#1a1a1a" stroke-width="0.9"/>
<line x1="171.20" y1="451.50" x2="173.40" y2="451.50" stroke="#1a1a1a" stroke-width="0.9"/>
<line x1="171.20" y1="450.57" x2="173.40" y2="450.57" stroke="#1a1a1a" stroke-width="0.9"/>
<line x1="171.20" y1="449.75" x2="173.40" y2="449.75" stroke="#1a1a1a" stroke-width="0.9"/>
<text x="163.05" y="467.98" font-size="7.6" text-anchor="end" stroke="#222" stroke-width="0.22" fill="#222">10</text>
<text x="167.60" y="465.68" font-size="5.0" text-anchor="end" fill="#222">-1</text>
<line x1="170.40" y1="449.01" x2="173.40" y2="449.01" stroke="#1a1a1a" stroke-width="1.4"/>
<line x1="171.20" y1="444.17" x2="173.40" y2="444.17" stroke="#1a1a1a" stroke-width="0.9"/>
<line x1="171.20" y1="441.34" x2="173.40" y2="441.34" stroke="#1a1a1a" stroke-width="0.9"/>
<line x1="171.20" y1="439.33" x2="173.40" y2="439.33" stroke="#1a1a1a" stroke-width="0.9"/>
<line x1="171.20" y1="437.78" x2="173.40" y2="437.78" stroke="#1a1a1a" stroke-width="0.9"/>
<line x1="171.20" y1="436.51" x2="173.40" y2="436.51" stroke="#1a1a1a" stroke-width="0.9"/>
<line x1="171.20" y1="435.43" x2="173.40" y2="435.43" stroke="#1a1a1a" stroke-width="0.9"/>
<line x1="171.20" y1="434.50" x2="173.40" y2="434.50" stroke="#1a1a1a" stroke-width="0.9"/>
<line x1="171.20" y1="433.68" x2="173.40" y2="433.68" stroke="#1a1a1a" stroke-width="0.9"/>
<text x="164.72" y="451.91" font-size="7.6" text-anchor="end" stroke="#222" stroke-width="0.22" fill="#222">10</text>
<text x="167.60" y="449.61" font-size="5.0" text-anchor="end" fill="#222">0</text>
<line x1="170.40" y1="432.94" x2="173.40" y2="432.94" stroke="#1a1a1a" stroke-width="1.4"/>
<line x1="171.20" y1="428.10" x2="173.40" y2="428.10" stroke="#1a1a1a" stroke-width="0.9"/>
<line x1="171.20" y1="425.27" x2="173.40" y2="425.27" stroke="#1a1a1a" stroke-width="0.9"/>
<line x1="171.20" y1="423.26" x2="173.40" y2="423.26" stroke="#1a1a1a" stroke-width="0.9"/>
<line x1="171.20" y1="421.71" x2="173.40" y2="421.71" stroke="#1a1a1a" stroke-width="0.9"/>
<line x1="171.20" y1="420.44" x2="173.40" y2="420.44" stroke="#1a1a1a" stroke-width="0.9"/>
<line x1="171.20" y1="419.36" x2="173.40" y2="419.36" stroke="#1a1a1a" stroke-width="0.9"/>
<line x1="171.20" y1="418.43" x2="173.40" y2="418.43" stroke="#1a1a1a" stroke-width="0.9"/>
<line x1="171.20" y1="417.61" x2="173.40" y2="417.61" stroke="#1a1a1a" stroke-width="0.9"/>
<text x="164.72" y="435.84" font-size="7.6" text-anchor="end" stroke="#222" stroke-width="0.22" fill="#222">10</text>
<text x="167.60" y="433.54" font-size="5.0" text-anchor="end" fill="#222">1</text>
<line x1="170.40" y1="416.87" x2="173.40" y2="416.87" stroke="#1a1a1a" stroke-width="1.4"/>
<line x1="171.20" y1="412.03" x2="173.40" y2="412.03" stroke="#1a1a1a" stroke-width="0.9"/>
<line x1="171.20" y1="409.20" x2="173.40" y2="409.20" stroke="#1a1a1a" stroke-width="0.9"/>
<line x1="171.20" y1="407.19" x2="173.40" y2="407.19" stroke="#1a1a1a" stroke-width="0.9"/>
<line x1="171.20" y1="405.64" x2="173.40" y2="405.64" stroke="#1a1a1a" stroke-width="0.9"/>
<line x1="171.20" y1="404.37" x2="173.40" y2="404.37" stroke="#1a1a1a" stroke-width="0.9"/>
<line x1="171.20" y1="403.29" x2="173.40" y2="403.29" stroke="#1a1a1a" stroke-width="0.9"/>
<line x1="171.20" y1="402.36" x2="173.40" y2="402.36" stroke="#1a1a1a" stroke-width="0.9"/>
<line x1="171.20" y1="401.54" x2="173.40" y2="401.54" stroke="#1a1a1a" stroke-width="0.9"/>
<text x="164.72" y="419.77" font-size="7.6" text-anchor="end" stroke="#222" stroke-width="0.22" fill="#222">10</text>
<text x="167.60" y="417.47" font-size="5.0" text-anchor="end" fill="#222">2</text>
<line x1="170.40" y1="400.80" x2="173.40" y2="400.80" stroke="#1a1a1a" stroke-width="1.4"/>
<text x="164.72" y="403.70" font-size="7.6" text-anchor="end" stroke="#222" stroke-width="0.22" fill="#222">10</text>
<text x="167.60" y="401.40" font-size="5.0" text-anchor="end" fill="#222">3</text>
<line x1="181.30" y1="417.40" x2="198.50" y2="417.40" stroke="#333" stroke-width="1.1"/>
<text x="189.90" y="417.00" font-size="6.4" text-anchor="middle" fill="#333">*</text>
<text x="151.00" y="445.80" font-size="8.9" text-anchor="middle" fill="#333" stroke="#333" stroke-width="0.2" textLength="88.50" lengthAdjust="spacingAndGlyphs" transform="rotate(-90 151.00 445.80)">% of <tspan font-style="italic">Dolosigranulum</tspan> genus</text>
<text x="185.30" y="507.62" font-size="8.74" text-anchor="end" stroke="#222" stroke-width="0.1" fill="#222" textLength="11.27" lengthAdjust="spacingAndGlyphs" transform="rotate(-45 185.30 507.62)">HC</text>
<text x="201.80" y="507.62" font-size="8.74" text-anchor="end" stroke="#222" stroke-width="0.1" fill="#222" textLength="38.58" lengthAdjust="spacingAndGlyphs" transform="rotate(-45 201.80 507.62)">SCID other</text>
<text x="217.90" y="507.62" font-size="8.74" text-anchor="end" stroke="#222" stroke-width="0.1" fill="#222" textLength="32.51" lengthAdjust="spacingAndGlyphs" transform="rotate(-45 217.90 507.62)">GC/JAK3</text>
<text x="234.10" y="507.62" font-size="8.74" text-anchor="end" stroke="#222" stroke-width="0.1" fill="#222" textLength="53.83" lengthAdjust="spacingAndGlyphs" transform="rotate(-45 234.10 507.62)">GC/JAK3+IgRT</text>
<line x1="309.90" y1="451.40" x2="375.10" y2="451.40" stroke="#1a1a1a" stroke-width="1.2" stroke-dasharray="0.9 0.8"/>
<line x1="318.10" y1="445.10" x2="318.10" y2="447.40" stroke="#333" stroke-width="1"/>
<line x1="318.10" y1="459.60" x2="318.10" y2="469.80" stroke="#333" stroke-width="1"/>
<rect x="312.95" y="447.65" width="10.40" height="11.70" fill="#b49ccb" stroke="#a07fba" stroke-width="0.5"/>
<line x1="312.70" y1="451.50" x2="323.60" y2="451.50" stroke="#3a3a3a" stroke-width="1.4"/>
<path d="M315.90 445.10L318.10 443.34L320.30 445.10L318.10 446.86Z" fill="#5a1a78"/>
<path d="M315.90 469.80L318.10 468.04L320.30 469.80L318.10 471.56Z" fill="#5a1a78"/>
<circle cx="314.10" cy="444.70" r="1.55" fill="#5a1a78"/>
<circle cx="322.00" cy="444.70" r="1.55" fill="#5a1a78"/>
<circle cx="318.20" cy="446.70" r="1.55" fill="#5a1a78"/>
<circle cx="316.10" cy="448.80" r="1.55" fill="#5a1a78"/>
<circle cx="320.20" cy="448.10" r="1.55" fill="#5a1a78"/>
<circle cx="314.10" cy="451.10" r="1.55" fill="#5a1a78"/>
<circle cx="318.20" cy="450.80" r="1.55" fill="#5a1a78"/>
<circle cx="321.50" cy="451.50" r="1.55" fill="#5a1a78"/>
<circle cx="316.80" cy="453.50" r="1.55" fill="#5a1a78"/>
<circle cx="318.20" cy="457.60" r="1.55" fill="#5a1a78"/>
<circle cx="316.10" cy="461.00" r="1.55" fill="#5a1a78"/>
<circle cx="319.50" cy="464.40" r="1.55" fill="#5a1a78"/>
<line x1="334.40" y1="434.50" x2="334.40" y2="439.30" stroke="#333" stroke-width="1"/>
<line x1="334.40" y1="482.70" x2="334.40" y2="497.20" stroke="#333" stroke-width="1"/>
<rect x="329.25" y="439.55" width="10.40" height="42.90" fill="#a6e0a6" stroke="#8fd48f" stroke-width="0.5"/>
<line x1="329.00" y1="452.60" x2="339.90" y2="452.60" stroke="#3a3a3a" stroke-width="1.4"/>
<path d="M332.20 434.50L334.40 432.74L336.60 434.50L334.40 436.26Z" fill="#2cb83c"/>
<path d="M332.20 497.20L334.40 495.44L336.60 497.20L334.40 498.96Z" fill="#2cb83c"/>
<circle cx="335.80" cy="434.20" r="1.55" fill="#2cb83c"/>
<circle cx="332.40" cy="437.20" r="1.55" fill="#2cb83c"/>
<circle cx="334.50" cy="442.40" r="1.55" fill="#2cb83c"/>
<circle cx="330.70" cy="450.80" r="1.55" fill="#2cb83c"/>
<circle cx="334.50" cy="453.90" r="1.55" fill="#2cb83c"/>
<circle cx="337.90" cy="452.90" r="1.55" fill="#2cb83c"/>
<circle cx="334.50" cy="476.00" r="1.55" fill="#2cb83c"/>
<circle cx="332.40" cy="497.20" r="1.55" fill="#2cb83c"/>
<circle cx="335.80" cy="497.20" r="1.55" fill="#2cb83c"/>
<line x1="350.60" y1="456.50" x2="350.60" y2="461.30" stroke="#333" stroke-width="1"/>
<line x1="350.60" y1="476.90" x2="350.60" y2="485.10" stroke="#333" stroke-width="1"/>
<rect x="345.45" y="461.55" width="10.40" height="15.10" fill="#e58aa0" stroke="#d9708a" stroke-width="0.5"/>
<line x1="345.20" y1="467.70" x2="356.10" y2="467.70" stroke="#3a3a3a" stroke-width="1.4"/>
<path d="M348.40 456.50L350.60 454.74L352.80 456.50L350.60 458.26Z" fill="#d01030"/>
<path d="M348.40 485.10L350.60 483.34L352.80 485.10L350.60 486.86Z" fill="#d01030"/>
<circle cx="350.60" cy="462.60" r="1.55" fill="#d01030"/>
<circle cx="348.80" cy="468.70" r="1.55" fill="#d01030"/>
<circle cx="352.50" cy="467.00" r="1.55" fill="#d01030"/>
<circle cx="350.60" cy="474.90" r="1.55" fill="#d01030"/>
<line x1="367.20" y1="424.30" x2="367.20" y2="427.90" stroke="#333" stroke-width="1"/>
<line x1="367.20" y1="456.50" x2="367.20" y2="477.60" stroke="#333" stroke-width="1"/>
<rect x="362.05" y="428.15" width="10.40" height="28.10" fill="#8fb2d4" stroke="#739fc9" stroke-width="0.5"/>
<line x1="361.80" y1="445.20" x2="372.70" y2="445.20" stroke="#3a3a3a" stroke-width="1.4"/>
<path d="M365.00 424.30L367.20 422.54L369.40 424.30L367.20 426.06Z" fill="#1a5590"/>
<path d="M365.00 477.60L367.20 475.84L369.40 477.60L367.20 479.36Z" fill="#1a5590"/>
<circle cx="367.20" cy="429.30" r="1.55" fill="#1a5590"/>
<circle cx="367.20" cy="442.20" r="1.55" fill="#1a5590"/>
<circle cx="367.20" cy="449.30" r="1.55" fill="#1a5590"/>
<circle cx="367.20" cy="454.20" r="1.55" fill="#1a5590"/>
<line x1="309.90" y1="396.10" x2="309.90" y2="497.90" stroke="#1a1a1a" stroke-width="1.5"/>
<line x1="309.20" y1="497.20" x2="374.60" y2="497.20" stroke="#1a1a1a" stroke-width="1.4"/>
<line x1="318.10" y1="497.20" x2="318.10" y2="500.00" stroke="#1a1a1a" stroke-width="1"/>
<line x1="334.40" y1="497.20" x2="334.40" y2="500.00" stroke="#1a1a1a" stroke-width="1"/>
<line x1="350.60" y1="497.20" x2="350.60" y2="500.00" stroke="#1a1a1a" stroke-width="1"/>
<line x1="367.20" y1="497.20" x2="367.20" y2="500.00" stroke="#1a1a1a" stroke-width="1"/>
<line x1="306.90" y1="497.20" x2="309.90" y2="497.20" stroke="#1a1a1a" stroke-width="1.4"/>
<line x1="307.70" y1="489.85" x2="309.90" y2="489.85" stroke="#1a1a1a" stroke-width="0.9"/>
<line x1="307.70" y1="485.56" x2="309.90" y2="485.56" stroke="#1a1a1a" stroke-width="0.9"/>
<line x1="307.70" y1="482.51" x2="309.90" y2="482.51" stroke="#1a1a1a" stroke-width="0.9"/>
<line x1="307.70" y1="480.15" x2="309.90" y2="480.15" stroke="#1a1a1a" stroke-width="0.9"/>
<line x1="307.70" y1="478.21" x2="309.90" y2="478.21" stroke="#1a1a1a" stroke-width="0.9"/>
<line x1="307.70" y1="476.58" x2="309.90" y2="476.58" stroke="#1a1a1a" stroke-width="0.9"/>
<line x1="307.70" y1="475.16" x2="309.90" y2="475.16" stroke="#1a1a1a" stroke-width="0.9"/>
<line x1="307.70" y1="473.92" x2="309.90" y2="473.92" stroke="#1a1a1a" stroke-width="0.9"/>
<text x="299.55" y="500.10" font-size="7.6" text-anchor="end" stroke="#222" stroke-width="0.22" fill="#222">10</text>
<text x="304.10" y="497.80" font-size="5.0" text-anchor="end" fill="#222">-3</text>
<line x1="306.90" y1="472.80" x2="309.90" y2="472.80" stroke="#1a1a1a" stroke-width="1.4"/>
<line x1="307.70" y1="465.45" x2="309.90" y2="465.45" stroke="#1a1a1a" stroke-width="0.9"/>
<line x1="307.70" y1="461.16" x2="309.90" y2="461.16" stroke="#1a1a1a" stroke-width="0.9"/>
<line x1="307.70" y1="458.11" x2="309.90" y2="458.11" stroke="#1a1a1a" stroke-width="0.9"/>
<line x1="307.70" y1="455.75" x2="309.90" y2="455.75" stroke="#1a1a1a" stroke-width="0.9"/>
<line x1="307.70" y1="453.81" x2="309.90" y2="453.81" stroke="#1a1a1a" stroke-width="0.9"/>
<line x1="307.70" y1="452.18" x2="309.90" y2="452.18" stroke="#1a1a1a" stroke-width="0.9"/>
<line x1="307.70" y1="450.76" x2="309.90" y2="450.76" stroke="#1a1a1a" stroke-width="0.9"/>
<line x1="307.70" y1="449.52" x2="309.90" y2="449.52" stroke="#1a1a1a" stroke-width="0.9"/>
<text x="299.55" y="475.70" font-size="7.6" text-anchor="end" stroke="#222" stroke-width="0.22" fill="#222">10</text>
<text x="304.10" y="473.40" font-size="5.0" text-anchor="end" fill="#222">-2</text>
<line x1="306.90" y1="448.40" x2="309.90" y2="448.40" stroke="#1a1a1a" stroke-width="1.4"/>
<line x1="307.70" y1="441.05" x2="309.90" y2="441.05" stroke="#1a1a1a" stroke-width="0.9"/>
<line x1="307.70" y1="436.76" x2="309.90" y2="436.76" stroke="#1a1a1a" stroke-width="0.9"/>
<line x1="307.70" y1="433.71" x2="309.90" y2="433.71" stroke="#1a1a1a" stroke-width="0.9"/>
<line x1="307.70" y1="431.35" x2="309.90" y2="431.35" stroke="#1a1a1a" stroke-width="0.9"/>
<line x1="307.70" y1="429.41" x2="309.90" y2="429.41" stroke="#1a1a1a" stroke-width="0.9"/>
<line x1="307.70" y1="427.78" x2="309.90" y2="427.78" stroke="#1a1a1a" stroke-width="0.9"/>
<line x1="307.70" y1="426.36" x2="309.90" y2="426.36" stroke="#1a1a1a" stroke-width="0.9"/>
<line x1="307.70" y1="425.12" x2="309.90" y2="425.12" stroke="#1a1a1a" stroke-width="0.9"/>
<text x="299.55" y="451.30" font-size="7.6" text-anchor="end" stroke="#222" stroke-width="0.22" fill="#222">10</text>
<text x="304.10" y="449.00" font-size="5.0" text-anchor="end" fill="#222">-1</text>
<line x1="306.90" y1="424.00" x2="309.90" y2="424.00" stroke="#1a1a1a" stroke-width="1.4"/>
<line x1="307.70" y1="416.65" x2="309.90" y2="416.65" stroke="#1a1a1a" stroke-width="0.9"/>
<line x1="307.70" y1="412.36" x2="309.90" y2="412.36" stroke="#1a1a1a" stroke-width="0.9"/>
<line x1="307.70" y1="409.31" x2="309.90" y2="409.31" stroke="#1a1a1a" stroke-width="0.9"/>
<line x1="307.70" y1="406.95" x2="309.90" y2="406.95" stroke="#1a1a1a" stroke-width="0.9"/>
<line x1="307.70" y1="405.01" x2="309.90" y2="405.01" stroke="#1a1a1a" stroke-width="0.9"/>
<line x1="307.70" y1="403.38" x2="309.90" y2="403.38" stroke="#1a1a1a" stroke-width="0.9"/>
<line x1="307.70" y1="401.96" x2="309.90" y2="401.96" stroke="#1a1a1a" stroke-width="0.9"/>
<line x1="307.70" y1="400.72" x2="309.90" y2="400.72" stroke="#1a1a1a" stroke-width="0.9"/>
<text x="301.22" y="426.90" font-size="7.6" text-anchor="end" stroke="#222" stroke-width="0.22" fill="#222">10</text>
<text x="304.10" y="424.60" font-size="5.0" text-anchor="end" fill="#222">0</text>
<line x1="306.90" y1="399.60" x2="309.90" y2="399.60" stroke="#1a1a1a" stroke-width="1.4"/>
<text x="301.22" y="402.50" font-size="7.6" text-anchor="end" stroke="#222" stroke-width="0.22" fill="#222">10</text>
<text x="304.10" y="400.20" font-size="5.0" text-anchor="end" fill="#222">1</text>
<text x="288.00" y="447.10" font-size="8.9" text-anchor="middle" fill="#333" stroke="#333" stroke-width="0.2" textLength="85.00" lengthAdjust="spacingAndGlyphs" transform="rotate(-90 288.00 447.10)">% of <tspan font-style="italic">Cutibacterium</tspan> genus</text>
<text x="321.40" y="507.60" font-size="8.74" text-anchor="end" stroke="#222" stroke-width="0.1" fill="#222" textLength="11.27" lengthAdjust="spacingAndGlyphs" transform="rotate(-45 321.40 507.60)">HC</text>
<text x="337.70" y="507.60" font-size="8.74" text-anchor="end" stroke="#222" stroke-width="0.1" fill="#222" textLength="38.58" lengthAdjust="spacingAndGlyphs" transform="rotate(-45 337.70 507.60)">SCID other</text>
<text x="353.90" y="507.60" font-size="8.74" text-anchor="end" stroke="#222" stroke-width="0.1" fill="#222" textLength="32.51" lengthAdjust="spacingAndGlyphs" transform="rotate(-45 353.90 507.60)">GC/JAK3</text>
<text x="370.50" y="507.60" font-size="8.74" text-anchor="end" stroke="#222" stroke-width="0.1" fill="#222" textLength="53.83" lengthAdjust="spacingAndGlyphs" transform="rotate(-45 370.50 507.60)">GC/JAK3+IgRT</text>
<line x1="447.70" y1="456.20" x2="510.90" y2="456.20" stroke="#1a1a1a" stroke-width="1.2" stroke-dasharray="0.9 0.8"/>
<line x1="456.00" y1="448.30" x2="456.00" y2="453.00" stroke="#333" stroke-width="1"/>
<rect x="451.05" y="453.25" width="9.60" height="15.10" fill="#b49ccb" stroke="#a07fba" stroke-width="0.5"/>
<line x1="450.80" y1="454.10" x2="460.90" y2="454.10" stroke="#3a3a3a" stroke-width="1.4"/>
<path d="M453.80 448.30L456.00 446.54L458.20 448.30L456.00 450.06Z" fill="#5a1a78"/>
<circle cx="454.00" cy="446.40" r="1.55" fill="#5a1a78"/>
<circle cx="458.30" cy="447.50" r="1.55" fill="#5a1a78"/>
<circle cx="455.40" cy="452.60" r="1.55" fill="#5a1a78"/>
<circle cx="457.80" cy="454.10" r="1.55" fill="#5a1a78"/>
<circle cx="453.00" cy="454.80" r="1.55" fill="#5a1a78"/>
<circle cx="456.30" cy="457.70" r="1.55" fill="#5a1a78"/>
<circle cx="455.90" cy="461.30" r="1.55" fill="#5a1a78"/>
<circle cx="454.00" cy="466.40" r="1.55" fill="#5a1a78"/>
<circle cx="458.80" cy="469.60" r="1.55" fill="#5a1a78"/>
<circle cx="456.60" cy="471.90" r="1.55" fill="#5a1a78"/>
<circle cx="454.00" cy="473.90" r="1.55" fill="#5a1a78"/>
<line x1="472.00" y1="463.20" x2="472.00" y2="496.80" stroke="#333" stroke-width="1"/>
<line x1="472.00" y1="496.80" x2="472.00" y2="496.80" stroke="#3a3a3a" stroke-width="1.4"/>
<path d="M469.80 463.20L472.00 461.44L474.20 463.20L472.00 464.96Z" fill="#2cb83c"/>
<circle cx="471.40" cy="491.00" r="1.55" fill="#2cb83c"/>
<circle cx="468.50" cy="496.60" r="1.55" fill="#2cb83c"/>
<circle cx="471.00" cy="496.60" r="1.55" fill="#2cb83c"/>
<circle cx="473.50" cy="496.60" r="1.55" fill="#2cb83c"/>
<circle cx="476.00" cy="496.60" r="1.55" fill="#2cb83c"/>
<line x1="488.00" y1="496.80" x2="488.00" y2="496.80" stroke="#3a3a3a" stroke-width="1.4"/>
<circle cx="484.60" cy="496.60" r="1.55" fill="#d01030"/>
<circle cx="486.90" cy="496.60" r="1.55" fill="#d01030"/>
<circle cx="489.20" cy="496.60" r="1.55" fill="#d01030"/>
<circle cx="491.40" cy="496.60" r="1.55" fill="#d01030"/>
<line x1="503.70" y1="472.20" x2="503.70" y2="477.00" stroke="#333" stroke-width="1"/>
<rect x="498.85" y="477.25" width="9.70" height="19.30" fill="#8fb2d4" stroke="#739fc9" stroke-width="0.5"/>
<line x1="498.60" y1="496.80" x2="508.80" y2="496.80" stroke="#3a3a3a" stroke-width="1.4"/>
<path d="M501.50 472.20L503.70 470.44L505.90 472.20L503.70 473.96Z" fill="#1a5590"/>
<circle cx="503.70" cy="478.70" r="1.55" fill="#1a5590"/>
<circle cx="500.00" cy="496.60" r="1.55" fill="#1a5590"/>
<circle cx="502.50" cy="496.60" r="1.55" fill="#1a5590"/>
<circle cx="505.00" cy="496.60" r="1.55" fill="#1a5590"/>
<circle cx="507.50" cy="496.60" r="1.55" fill="#1a5590"/>
<line x1="447.70" y1="398.40" x2="447.70" y2="497.20" stroke="#1a1a1a" stroke-width="1.5"/>
<line x1="447.00" y1="496.50" x2="512.30" y2="496.50" stroke="#1a1a1a" stroke-width="1.4"/>
<line x1="456.00" y1="496.50" x2="456.00" y2="499.30" stroke="#1a1a1a" stroke-width="1"/>
<line x1="472.00" y1="496.50" x2="472.00" y2="499.30" stroke="#1a1a1a" stroke-width="1"/>
<line x1="488.00" y1="496.50" x2="488.00" y2="499.30" stroke="#1a1a1a" stroke-width="1"/>
<line x1="503.70" y1="496.50" x2="503.70" y2="499.30" stroke="#1a1a1a" stroke-width="1"/>
<line x1="444.70" y1="496.50" x2="447.70" y2="496.50" stroke="#1a1a1a" stroke-width="1.4"/>
<line x1="445.50" y1="490.80" x2="447.70" y2="490.80" stroke="#1a1a1a" stroke-width="0.9"/>
<line x1="445.50" y1="487.47" x2="447.70" y2="487.47" stroke="#1a1a1a" stroke-width="0.9"/>
<line x1="445.50" y1="485.11" x2="447.70" y2="485.11" stroke="#1a1a1a" stroke-width="0.9"/>
<line x1="445.50" y1="483.28" x2="447.70" y2="483.28" stroke="#1a1a1a" stroke-width="0.9"/>
<line x1="445.50" y1="481.78" x2="447.70" y2="481.78" stroke="#1a1a1a" stroke-width="0.9"/>
<line x1="445.50" y1="480.51" x2="447.70" y2="480.51" stroke="#1a1a1a" stroke-width="0.9"/>
<line x1="445.50" y1="479.41" x2="447.70" y2="479.41" stroke="#1a1a1a" stroke-width="0.9"/>
<line x1="445.50" y1="478.45" x2="447.70" y2="478.45" stroke="#1a1a1a" stroke-width="0.9"/>
<text x="437.35" y="499.40" font-size="7.6" text-anchor="end" stroke="#222" stroke-width="0.22" fill="#222">10</text>
<text x="441.90" y="497.10" font-size="5.0" text-anchor="end" fill="#222">-2</text>
<line x1="444.70" y1="477.58" x2="447.70" y2="477.58" stroke="#1a1a1a" stroke-width="1.4"/>
<line x1="445.50" y1="471.88" x2="447.70" y2="471.88" stroke="#1a1a1a" stroke-width="0.9"/>
<line x1="445.50" y1="468.55" x2="447.70" y2="468.55" stroke="#1a1a1a" stroke-width="0.9"/>
<line x1="445.50" y1="466.19" x2="447.70" y2="466.19" stroke="#1a1a1a" stroke-width="0.9"/>
<line x1="445.50" y1="464.36" x2="447.70" y2="464.36" stroke="#1a1a1a" stroke-width="0.9"/>
<line x1="445.50" y1="462.86" x2="447.70" y2="462.86" stroke="#1a1a1a" stroke-width="0.9"/>
<line x1="445.50" y1="461.59" x2="447.70" y2="461.59" stroke="#1a1a1a" stroke-width="0.9"/>
<line x1="445.50" y1="460.49" x2="447.70" y2="460.49" stroke="#1a1a1a" stroke-width="0.9"/>
<line x1="445.50" y1="459.53" x2="447.70" y2="459.53" stroke="#1a1a1a" stroke-width="0.9"/>
<text x="437.35" y="480.48" font-size="7.6" text-anchor="end" stroke="#222" stroke-width="0.22" fill="#222">10</text>
<text x="441.90" y="478.18" font-size="5.0" text-anchor="end" fill="#222">-1</text>
<line x1="444.70" y1="458.66" x2="447.70" y2="458.66" stroke="#1a1a1a" stroke-width="1.4"/>
<line x1="445.50" y1="452.96" x2="447.70" y2="452.96" stroke="#1a1a1a" stroke-width="0.9"/>
<line x1="445.50" y1="449.63" x2="447.70" y2="449.63" stroke="#1a1a1a" stroke-width="0.9"/>
<line x1="445.50" y1="447.27" x2="447.70" y2="447.27" stroke="#1a1a1a" stroke-width="0.9"/>
<line x1="445.50" y1="445.44" x2="447.70" y2="445.44" stroke="#1a1a1a" stroke-width="0.9"/>
<line x1="445.50" y1="443.94" x2="447.70" y2="443.94" stroke="#1a1a1a" stroke-width="0.9"/>
<line x1="445.50" y1="442.67" x2="447.70" y2="442.67" stroke="#1a1a1a" stroke-width="0.9"/>
<line x1="445.50" y1="441.57" x2="447.70" y2="441.57" stroke="#1a1a1a" stroke-width="0.9"/>
<line x1="445.50" y1="440.61" x2="447.70" y2="440.61" stroke="#1a1a1a" stroke-width="0.9"/>
<text x="439.02" y="461.56" font-size="7.6" text-anchor="end" stroke="#222" stroke-width="0.22" fill="#222">10</text>
<text x="441.90" y="459.26" font-size="5.0" text-anchor="end" fill="#222">0</text>
<line x1="444.70" y1="439.74" x2="447.70" y2="439.74" stroke="#1a1a1a" stroke-width="1.4"/>
<line x1="445.50" y1="434.04" x2="447.70" y2="434.04" stroke="#1a1a1a" stroke-width="0.9"/>
<line x1="445.50" y1="430.71" x2="447.70" y2="430.71" stroke="#1a1a1a" stroke-width="0.9"/>
<line x1="445.50" y1="428.35" x2="447.70" y2="428.35" stroke="#1a1a1a" stroke-width="0.9"/>
<line x1="445.50" y1="426.52" x2="447.70" y2="426.52" stroke="#1a1a1a" stroke-width="0.9"/>
<line x1="445.50" y1="425.02" x2="447.70" y2="425.02" stroke="#1a1a1a" stroke-width="0.9"/>
<line x1="445.50" y1="423.75" x2="447.70" y2="423.75" stroke="#1a1a1a" stroke-width="0.9"/>
<line x1="445.50" y1="422.65" x2="447.70" y2="422.65" stroke="#1a1a1a" stroke-width="0.9"/>
<line x1="445.50" y1="421.69" x2="447.70" y2="421.69" stroke="#1a1a1a" stroke-width="0.9"/>
<text x="439.02" y="442.64" font-size="7.6" text-anchor="end" stroke="#222" stroke-width="0.22" fill="#222">10</text>
<text x="441.90" y="440.34" font-size="5.0" text-anchor="end" fill="#222">1</text>
<line x1="444.70" y1="420.82" x2="447.70" y2="420.82" stroke="#1a1a1a" stroke-width="1.4"/>
<line x1="445.50" y1="415.12" x2="447.70" y2="415.12" stroke="#1a1a1a" stroke-width="0.9"/>
<line x1="445.50" y1="411.79" x2="447.70" y2="411.79" stroke="#1a1a1a" stroke-width="0.9"/>
<line x1="445.50" y1="409.43" x2="447.70" y2="409.43" stroke="#1a1a1a" stroke-width="0.9"/>
<line x1="445.50" y1="407.60" x2="447.70" y2="407.60" stroke="#1a1a1a" stroke-width="0.9"/>
<line x1="445.50" y1="406.10" x2="447.70" y2="406.10" stroke="#1a1a1a" stroke-width="0.9"/>
<line x1="445.50" y1="404.83" x2="447.70" y2="404.83" stroke="#1a1a1a" stroke-width="0.9"/>
<line x1="445.50" y1="403.73" x2="447.70" y2="403.73" stroke="#1a1a1a" stroke-width="0.9"/>
<line x1="445.50" y1="402.77" x2="447.70" y2="402.77" stroke="#1a1a1a" stroke-width="0.9"/>
<text x="439.02" y="423.72" font-size="7.6" text-anchor="end" stroke="#222" stroke-width="0.22" fill="#222">10</text>
<text x="441.90" y="421.42" font-size="5.0" text-anchor="end" fill="#222">2</text>
<line x1="444.70" y1="401.90" x2="447.70" y2="401.90" stroke="#1a1a1a" stroke-width="1.4"/>
<text x="439.02" y="404.80" font-size="7.6" text-anchor="end" stroke="#222" stroke-width="0.22" fill="#222">10</text>
<text x="441.90" y="402.50" font-size="5.0" text-anchor="end" fill="#222">3</text>
<line x1="456.30" y1="428.40" x2="501.20" y2="428.40" stroke="#333" stroke-width="1.1"/>
<text x="478.75" y="429.10" font-size="6.4" text-anchor="middle" fill="#333">**</text>
<line x1="456.30" y1="434.50" x2="484.60" y2="434.50" stroke="#333" stroke-width="1.1"/>
<text x="470.45" y="435.20" font-size="6.4" text-anchor="middle" fill="#333">***</text>
<line x1="456.30" y1="441.00" x2="473.30" y2="441.00" stroke="#333" stroke-width="1.1"/>
<text x="464.80" y="441.70" font-size="6.4" text-anchor="middle" fill="#333">***</text>
<text x="425.40" y="447.60" font-size="8.9" text-anchor="middle" fill="#333" stroke="#333" stroke-width="0.2" textLength="79.80" lengthAdjust="spacingAndGlyphs" transform="rotate(-90 425.40 447.60)">% of <tspan font-style="italic">Comamonas</tspan> genus</text>
<text x="459.30" y="506.90" font-size="8.74" text-anchor="end" stroke="#222" stroke-width="0.1" fill="#222" textLength="11.27" lengthAdjust="spacingAndGlyphs" transform="rotate(-45 459.30 506.90)">HC</text>
<text x="475.30" y="506.90" font-size="8.74" text-anchor="end" stroke="#222" stroke-width="0.1" fill="#222" textLength="38.58" lengthAdjust="spacingAndGlyphs" transform="rotate(-45 475.30 506.90)">SCID other</text>
<text x="491.30" y="506.90" font-size="8.74" text-anchor="end" stroke="#222" stroke-width="0.1" fill="#222" textLength="32.51" lengthAdjust="spacingAndGlyphs" transform="rotate(-45 491.30 506.90)">GC/JAK3</text>
<text x="507.00" y="506.90" font-size="8.74" text-anchor="end" stroke="#222" stroke-width="0.1" fill="#222" textLength="53.83" lengthAdjust="spacingAndGlyphs" transform="rotate(-45 507.00 506.90)">GC/JAK3+IgRT</text>
<rect x="0.5" y="0.5" width="519" height="551" fill="none" stroke="#000" stroke-width="1.2"/>
</svg></body></html>
